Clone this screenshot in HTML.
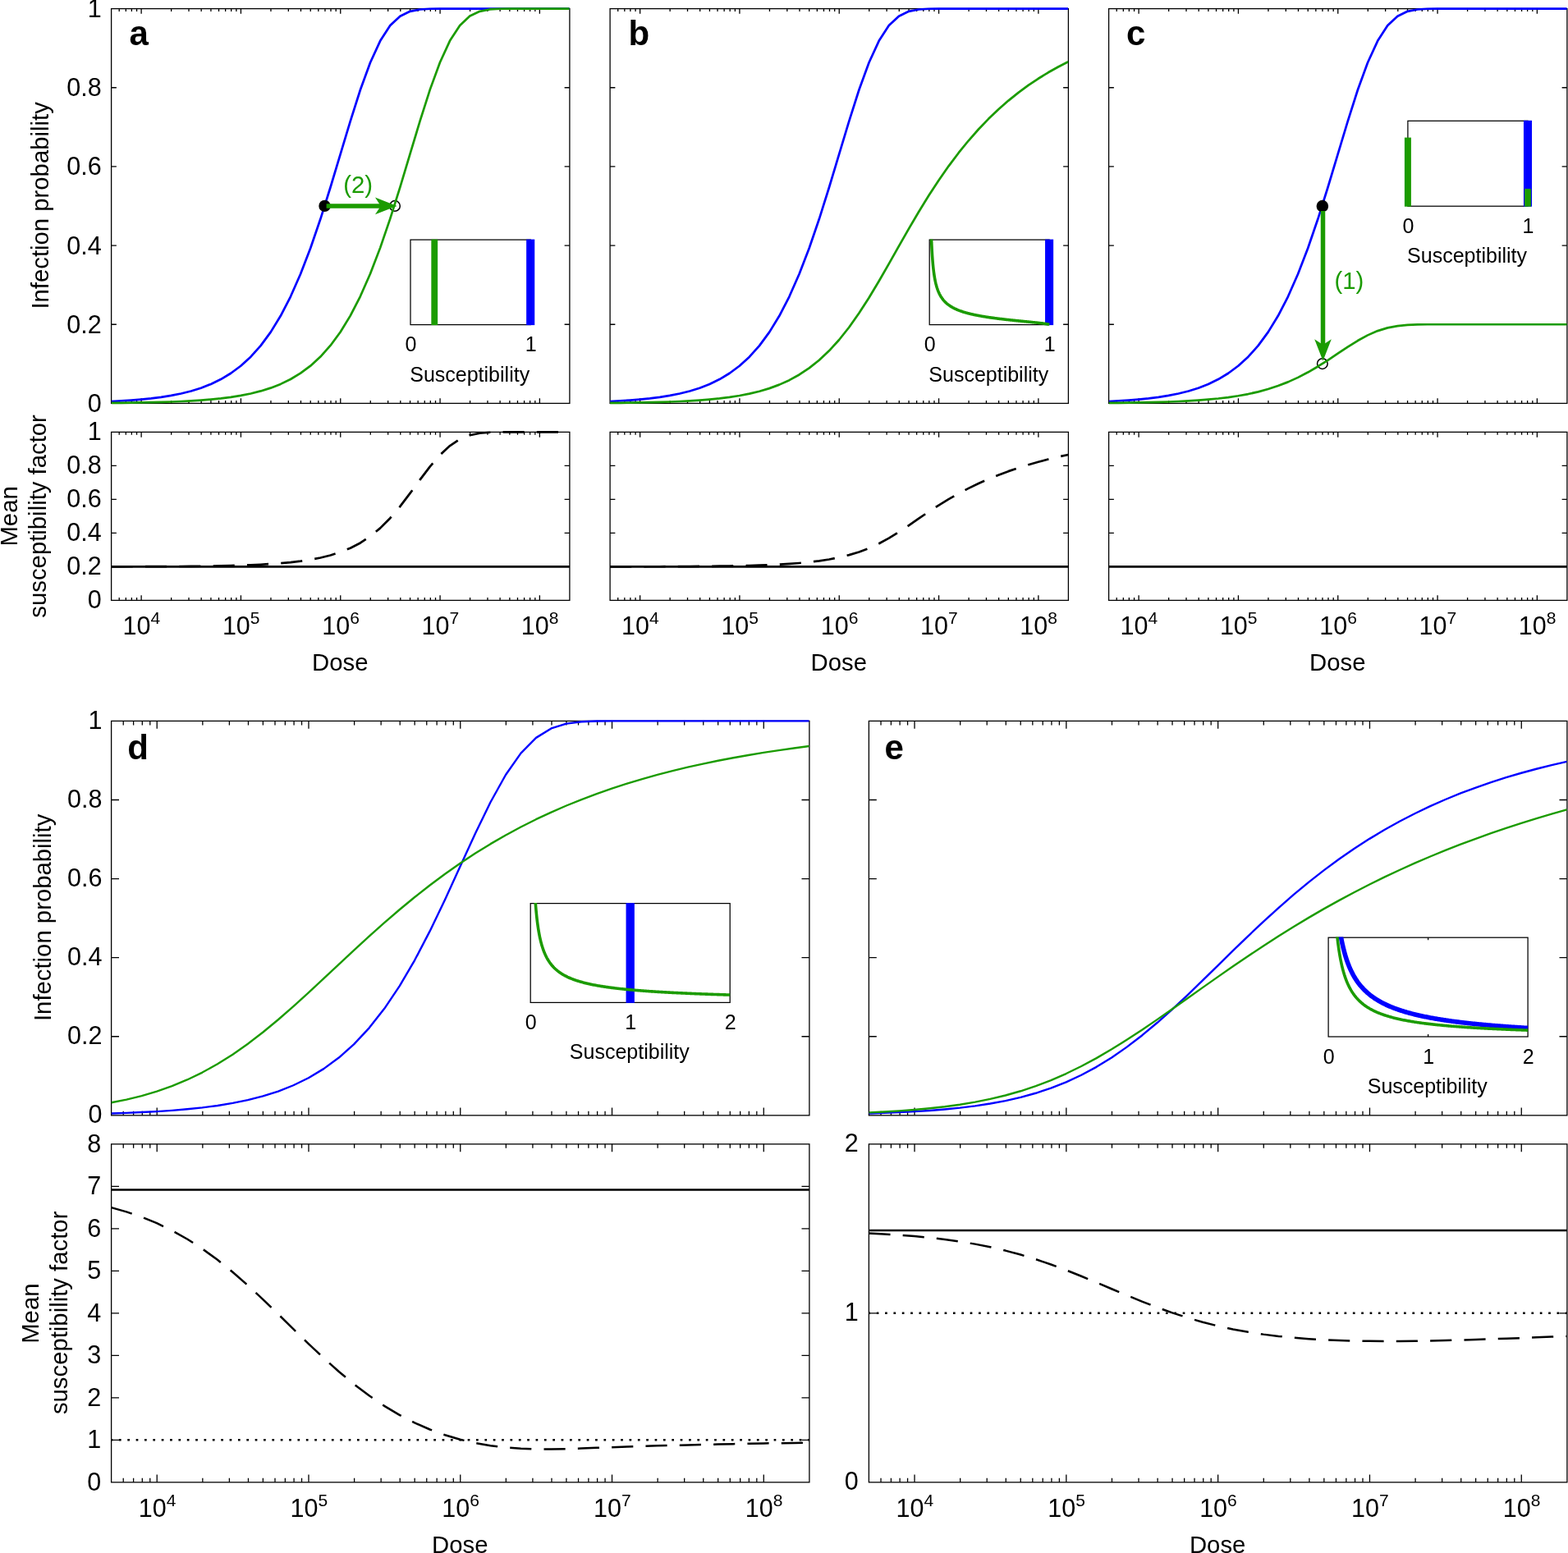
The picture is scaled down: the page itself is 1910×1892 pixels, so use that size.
<!DOCTYPE html>
<html><head><meta charset="utf-8"><title>Figure</title>
<style>
html,body{margin:0;padding:0;background:#fff;}
body{width:1910px;height:1892px;overflow:hidden;}
svg{display:block;font-family:"Liberation Sans", sans-serif;fill:#000;}
</style></head><body>
<svg xmlns="http://www.w3.org/2000/svg" width="1910" height="1892" viewBox="0 0 1910 1892">
<rect width="1910" height="1892" fill="#fff"/>
<path d="M145.21 491.4v-3.4369049999999994M145.21 10.6v3.4369049999999994M153.33 491.4v-3.4369049999999994M153.33 10.6v3.4369049999999994M160.36 491.4v-3.4369049999999994M160.36 10.6v3.4369049999999994M166.57 491.4v-3.4369049999999994M166.57 10.6v3.4369049999999994M172.12 491.4v-6.273809999999999M172.12 10.6v6.273809999999999M208.64 491.4v-3.4369049999999994M208.64 10.6v3.4369049999999994M230 491.4v-3.4369049999999994M230 10.6v3.4369049999999994M245.16 491.4v-3.4369049999999994M245.16 10.6v3.4369049999999994M256.92 491.4v-3.4369049999999994M256.92 10.6v3.4369049999999994M266.52 491.4v-3.4369049999999994M266.52 10.6v3.4369049999999994M274.64 491.4v-3.4369049999999994M274.64 10.6v3.4369049999999994M281.68 491.4v-3.4369049999999994M281.68 10.6v3.4369049999999994M287.88 491.4v-3.4369049999999994M287.88 10.6v3.4369049999999994M293.43 491.4v-6.273809999999999M293.43 10.6v6.273809999999999M329.95 491.4v-3.4369049999999994M329.95 10.6v3.4369049999999994M351.32 491.4v-3.4369049999999994M351.32 10.6v3.4369049999999994M366.47 491.4v-3.4369049999999994M366.47 10.6v3.4369049999999994M378.23 491.4v-3.4369049999999994M378.23 10.6v3.4369049999999994M387.84 491.4v-3.4369049999999994M387.84 10.6v3.4369049999999994M395.96 491.4v-3.4369049999999994M395.96 10.6v3.4369049999999994M402.99 491.4v-3.4369049999999994M402.99 10.6v3.4369049999999994M409.2 491.4v-3.4369049999999994M409.2 10.6v3.4369049999999994M414.75 491.4v-6.273809999999999M414.75 10.6v6.273809999999999M451.27 491.4v-3.4369049999999994M451.27 10.6v3.4369049999999994M472.63 491.4v-3.4369049999999994M472.63 10.6v3.4369049999999994M487.79 491.4v-3.4369049999999994M487.79 10.6v3.4369049999999994M499.55 491.4v-3.4369049999999994M499.55 10.6v3.4369049999999994M509.15 491.4v-3.4369049999999994M509.15 10.6v3.4369049999999994M517.27 491.4v-3.4369049999999994M517.27 10.6v3.4369049999999994M524.31 491.4v-3.4369049999999994M524.31 10.6v3.4369049999999994M530.51 491.4v-3.4369049999999994M530.51 10.6v3.4369049999999994M536.07 491.4v-6.273809999999999M536.07 10.6v6.273809999999999M572.58 491.4v-3.4369049999999994M572.58 10.6v3.4369049999999994M593.95 491.4v-3.4369049999999994M593.95 10.6v3.4369049999999994M609.1 491.4v-3.4369049999999994M609.1 10.6v3.4369049999999994M620.86 491.4v-3.4369049999999994M620.86 10.6v3.4369049999999994M630.47 491.4v-3.4369049999999994M630.47 10.6v3.4369049999999994M638.59 491.4v-3.4369049999999994M638.59 10.6v3.4369049999999994M645.62 491.4v-3.4369049999999994M645.62 10.6v3.4369049999999994M651.83 491.4v-3.4369049999999994M651.83 10.6v3.4369049999999994M657.38 491.4v-6.273809999999999M657.38 10.6v6.273809999999999M135.6 395.24h6.27M693.9 395.24h-6.27M135.6 299.08h6.27M693.9 299.08h-6.27M135.6 202.92h6.27M693.9 202.92h-6.27M135.6 106.76h6.27M693.9 106.76h-6.27" fill="none" stroke="#000" stroke-width="1.3"/>
<rect x="135.6" y="10.6" width="558.3" height="480.8" fill="none" stroke="#000" stroke-width="1.3"/>
<text x="123.7" y="501.9" text-anchor="end" font-size="30.5">0</text>
<text x="123.7" y="405.74" text-anchor="end" font-size="30.5">0.2</text>
<text x="123.7" y="309.58" text-anchor="end" font-size="30.5">0.4</text>
<text x="123.7" y="213.42" text-anchor="end" font-size="30.5">0.6</text>
<text x="123.7" y="117.26" text-anchor="end" font-size="30.5">0.8</text>
<text x="123.7" y="21.1" text-anchor="end" font-size="30.5">1</text>
<clipPath id="k1"><rect x="135.6" y="8.6" width="558.3" height="484.8"/></clipPath>
<polyline clip-path="url(#k1)" points="135.6,489 147.73,488.38 159.86,487.6 171.99,486.63 184.13,485.4 196.26,483.86 208.39,481.92 220.52,479.5 232.65,476.47 244.78,472.68 256.92,467.95 269.05,462.07 281.18,454.77 293.31,445.75 305.44,434.65 317.57,421.08 329.7,404.62 341.84,384.83 353.97,361.31 366.1,333.81 378.23,302.22 390.36,266.81 402.49,228.28 414.63,187.9 426.76,147.54 438.89,109.52 451.02,76.29 463.15,49.83 475.28,31.1 487.41,19.66 499.55,13.84 511.68,11.49 523.81,10.77 535.94,10.62 548.07,10.6 560.2,10.6 572.33,10.6 584.47,10.6 596.6,10.6 608.73,10.6 620.86,10.6 632.99,10.6 645.12,10.6 657.26,10.6 669.39,10.6 681.52,10.6 693.65,10.6" fill="none" stroke="#0000ff" stroke-width="2.7" stroke-linejoin="round"/>
<circle cx="395.5" cy="250.9" r="7.2" fill="#000"/>
<circle cx="481.0" cy="250.9" r="6.3" fill="none" stroke="#000" stroke-width="1.5"/>
<clipPath id="k2"><rect x="135.6" y="8.6" width="558.3" height="484.8"/></clipPath>
<polyline clip-path="url(#k2)" points="135.6,490.92 147.73,490.8 159.86,490.64 171.99,490.44 184.13,490.19 196.26,489.88 208.39,489.49 220.52,489 232.65,488.38 244.78,487.6 256.92,486.62 269.05,485.39 281.18,483.84 293.31,481.9 305.44,479.47 317.57,476.43 329.7,472.64 341.84,467.9 353.97,462 366.1,454.69 378.23,445.65 390.36,434.53 402.49,420.93 414.63,404.43 426.76,384.6 438.89,361.05 451.02,333.5 463.15,301.87 475.28,266.43 487.41,227.87 499.55,187.48 511.68,147.13 523.81,109.15 535.94,75.98 548.07,49.6 560.2,30.95 572.33,19.57 584.47,13.8 596.6,11.47 608.73,10.77 620.86,10.62 632.99,10.6 645.12,10.6 657.26,10.6 669.39,10.6 681.52,10.6 693.65,10.6" fill="none" stroke="#1b9b00" stroke-width="2.7" stroke-linejoin="round"/>
<path d="M145.21 731.4v-3.4369049999999994M145.21 526.4v3.4369049999999994M153.33 731.4v-3.4369049999999994M153.33 526.4v3.4369049999999994M160.36 731.4v-3.4369049999999994M160.36 526.4v3.4369049999999994M166.57 731.4v-3.4369049999999994M166.57 526.4v3.4369049999999994M172.12 731.4v-6.273809999999999M172.12 526.4v6.273809999999999M208.64 731.4v-3.4369049999999994M208.64 526.4v3.4369049999999994M230 731.4v-3.4369049999999994M230 526.4v3.4369049999999994M245.16 731.4v-3.4369049999999994M245.16 526.4v3.4369049999999994M256.92 731.4v-3.4369049999999994M256.92 526.4v3.4369049999999994M266.52 731.4v-3.4369049999999994M266.52 526.4v3.4369049999999994M274.64 731.4v-3.4369049999999994M274.64 526.4v3.4369049999999994M281.68 731.4v-3.4369049999999994M281.68 526.4v3.4369049999999994M287.88 731.4v-3.4369049999999994M287.88 526.4v3.4369049999999994M293.43 731.4v-6.273809999999999M293.43 526.4v6.273809999999999M329.95 731.4v-3.4369049999999994M329.95 526.4v3.4369049999999994M351.32 731.4v-3.4369049999999994M351.32 526.4v3.4369049999999994M366.47 731.4v-3.4369049999999994M366.47 526.4v3.4369049999999994M378.23 731.4v-3.4369049999999994M378.23 526.4v3.4369049999999994M387.84 731.4v-3.4369049999999994M387.84 526.4v3.4369049999999994M395.96 731.4v-3.4369049999999994M395.96 526.4v3.4369049999999994M402.99 731.4v-3.4369049999999994M402.99 526.4v3.4369049999999994M409.2 731.4v-3.4369049999999994M409.2 526.4v3.4369049999999994M414.75 731.4v-6.273809999999999M414.75 526.4v6.273809999999999M451.27 731.4v-3.4369049999999994M451.27 526.4v3.4369049999999994M472.63 731.4v-3.4369049999999994M472.63 526.4v3.4369049999999994M487.79 731.4v-3.4369049999999994M487.79 526.4v3.4369049999999994M499.55 731.4v-3.4369049999999994M499.55 526.4v3.4369049999999994M509.15 731.4v-3.4369049999999994M509.15 526.4v3.4369049999999994M517.27 731.4v-3.4369049999999994M517.27 526.4v3.4369049999999994M524.31 731.4v-3.4369049999999994M524.31 526.4v3.4369049999999994M530.51 731.4v-3.4369049999999994M530.51 526.4v3.4369049999999994M536.07 731.4v-6.273809999999999M536.07 526.4v6.273809999999999M572.58 731.4v-3.4369049999999994M572.58 526.4v3.4369049999999994M593.95 731.4v-3.4369049999999994M593.95 526.4v3.4369049999999994M609.1 731.4v-3.4369049999999994M609.1 526.4v3.4369049999999994M620.86 731.4v-3.4369049999999994M620.86 526.4v3.4369049999999994M630.47 731.4v-3.4369049999999994M630.47 526.4v3.4369049999999994M638.59 731.4v-3.4369049999999994M638.59 526.4v3.4369049999999994M645.62 731.4v-3.4369049999999994M645.62 526.4v3.4369049999999994M651.83 731.4v-3.4369049999999994M651.83 526.4v3.4369049999999994M657.38 731.4v-6.273809999999999M657.38 526.4v6.273809999999999M135.6 690.4h6.27M693.9 690.4h-6.27M135.6 649.4h6.27M693.9 649.4h-6.27M135.6 608.4h6.27M693.9 608.4h-6.27M135.6 567.4h6.27M693.9 567.4h-6.27" fill="none" stroke="#000" stroke-width="1.3"/>
<rect x="135.6" y="526.4" width="558.3" height="205" fill="none" stroke="#000" stroke-width="1.3"/>
<text x="123.7" y="741.1" text-anchor="end" font-size="30.5">0</text>
<text x="123.7" y="700.1" text-anchor="end" font-size="30.5">0.2</text>
<text x="123.7" y="659.1" text-anchor="end" font-size="30.5">0.4</text>
<text x="123.7" y="618.1" text-anchor="end" font-size="30.5">0.6</text>
<text x="123.7" y="577.1" text-anchor="end" font-size="30.5">0.8</text>
<text x="123.7" y="536.1" text-anchor="end" font-size="30.5">1</text>
<text x="172.42" y="773.2" text-anchor="middle" font-size="30.5">10<tspan dy="-13.1" font-size="21">4</tspan></text>
<text x="293.73" y="773.2" text-anchor="middle" font-size="30.5">10<tspan dy="-13.1" font-size="21">5</tspan></text>
<text x="415.05" y="773.2" text-anchor="middle" font-size="30.5">10<tspan dy="-13.1" font-size="21">6</tspan></text>
<text x="536.37" y="773.2" text-anchor="middle" font-size="30.5">10<tspan dy="-13.1" font-size="21">7</tspan></text>
<text x="657.68" y="773.2" text-anchor="middle" font-size="30.5">10<tspan dy="-13.1" font-size="21">8</tspan></text>
<text x="414.25" y="817.2" text-anchor="middle" font-size="29.3">Dose</text>
<clipPath id="k3"><rect x="135.6" y="524.4" width="558.3" height="209"/></clipPath>
<polyline clip-path="url(#k3)" points="135.6,690.32 147.73,690.3 159.86,690.27 171.99,690.24 184.13,690.19 196.26,690.14 208.39,690.07 220.52,689.99 232.65,689.88 244.78,689.75 256.92,689.58 269.05,689.36 281.18,689.09 293.31,688.75 305.44,688.31 317.57,687.77 329.7,687.07 341.84,686.19 353.97,685.07 366.1,683.64 378.23,681.82 390.36,679.49 402.49,676.5 414.63,672.66 426.76,667.73 438.89,661.43 451.02,653.42 463.15,643.41 475.28,631.2 487.41,616.88 499.55,600.94 511.68,584.34 523.81,568.36 535.94,554.27 548.07,543.03 560.2,535.08 572.33,530.23 584.47,527.76 596.6,526.77 608.73,526.47 620.86,526.41 632.99,526.4 645.12,526.4 657.26,526.4 669.39,526.4 681.52,526.4 693.65,526.4" fill="none" stroke="#000" stroke-width="2.7" stroke-linejoin="round" stroke-dasharray="26.16 15.18"/>
<line x1="135.6" x2="693.9" y1="690.4" y2="690.4" stroke="#000" stroke-width="2.7"/>
<text x="157.6" y="55.3" font-size="42" font-weight="bold">a</text>
<path d="M752.71 491.4v-3.436905M752.71 10.6v3.436905M760.83 491.4v-3.436905M760.83 10.6v3.436905M767.86 491.4v-3.436905M767.86 10.6v3.436905M774.07 491.4v-3.436905M774.07 10.6v3.436905M779.62 491.4v-6.27381M779.62 10.6v6.27381M816.14 491.4v-3.436905M816.14 10.6v3.436905M837.5 491.4v-3.436905M837.5 10.6v3.436905M852.66 491.4v-3.436905M852.66 10.6v3.436905M864.42 491.4v-3.436905M864.42 10.6v3.436905M874.02 491.4v-3.436905M874.02 10.6v3.436905M882.14 491.4v-3.436905M882.14 10.6v3.436905M889.18 491.4v-3.436905M889.18 10.6v3.436905M895.38 491.4v-3.436905M895.38 10.6v3.436905M900.93 491.4v-6.27381M900.93 10.6v6.27381M937.45 491.4v-3.436905M937.45 10.6v3.436905M958.82 491.4v-3.436905M958.82 10.6v3.436905M973.97 491.4v-3.436905M973.97 10.6v3.436905M985.73 491.4v-3.436905M985.73 10.6v3.436905M995.34 491.4v-3.436905M995.34 10.6v3.436905M1003.46 491.4v-3.436905M1003.46 10.6v3.436905M1010.49 491.4v-3.436905M1010.49 10.6v3.436905M1016.7 491.4v-3.436905M1016.7 10.6v3.436905M1022.25 491.4v-6.27381M1022.25 10.6v6.27381M1058.77 491.4v-3.436905M1058.77 10.6v3.436905M1080.13 491.4v-3.436905M1080.13 10.6v3.436905M1095.29 491.4v-3.436905M1095.29 10.6v3.436905M1107.05 491.4v-3.436905M1107.05 10.6v3.436905M1116.65 491.4v-3.436905M1116.65 10.6v3.436905M1124.77 491.4v-3.436905M1124.77 10.6v3.436905M1131.81 491.4v-3.436905M1131.81 10.6v3.436905M1138.01 491.4v-3.436905M1138.01 10.6v3.436905M1143.57 491.4v-6.27381M1143.57 10.6v6.27381M1180.08 491.4v-3.436905M1180.08 10.6v3.436905M1201.45 491.4v-3.436905M1201.45 10.6v3.436905M1216.6 491.4v-3.436905M1216.6 10.6v3.436905M1228.36 491.4v-3.436905M1228.36 10.6v3.436905M1237.97 491.4v-3.436905M1237.97 10.6v3.436905M1246.09 491.4v-3.436905M1246.09 10.6v3.436905M1253.12 491.4v-3.436905M1253.12 10.6v3.436905M1259.33 491.4v-3.436905M1259.33 10.6v3.436905M1264.88 491.4v-6.27381M1264.88 10.6v6.27381M743.1 395.24h6.27M1301.4 395.24h-6.27M743.1 299.08h6.27M1301.4 299.08h-6.27M743.1 202.92h6.27M1301.4 202.92h-6.27M743.1 106.76h6.27M1301.4 106.76h-6.27" fill="none" stroke="#000" stroke-width="1.3"/>
<rect x="743.1" y="10.6" width="558.3" height="480.8" fill="none" stroke="#000" stroke-width="1.3"/>
<clipPath id="k4"><rect x="743.1" y="8.6" width="558.3" height="484.8"/></clipPath>
<polyline clip-path="url(#k4)" points="743.1,489 755.23,488.38 767.36,487.6 779.49,486.63 791.63,485.4 803.76,483.86 815.89,481.92 828.02,479.5 840.15,476.47 852.28,472.68 864.42,467.95 876.55,462.07 888.68,454.77 900.81,445.75 912.94,434.65 925.07,421.08 937.2,404.62 949.34,384.83 961.47,361.31 973.6,333.81 985.73,302.22 997.86,266.81 1009.99,228.28 1022.13,187.9 1034.26,147.54 1046.39,109.52 1058.52,76.29 1070.65,49.83 1082.78,31.1 1094.91,19.66 1107.05,13.84 1119.18,11.49 1131.31,10.77 1143.44,10.62 1155.57,10.6 1167.7,10.6 1179.83,10.6 1191.97,10.6 1204.1,10.6 1216.23,10.6 1228.36,10.6 1240.49,10.6 1252.62,10.6 1264.76,10.6 1276.89,10.6 1289.02,10.6 1301.15,10.6" fill="none" stroke="#0000ff" stroke-width="2.7" stroke-linejoin="round"/>
<clipPath id="k5"><rect x="743.1" y="8.6" width="558.3" height="484.8"/></clipPath>
<polyline clip-path="url(#k5)" points="743.1,490.92 755.23,490.8 767.36,490.64 779.49,490.44 791.63,490.2 803.76,489.89 815.89,489.49 828.02,489 840.15,488.39 852.28,487.62 864.42,486.65 876.55,485.43 888.68,483.92 900.81,482.03 912.94,479.67 925.07,476.74 937.2,473.11 949.34,468.64 961.47,463.16 973.6,456.48 985.73,448.41 997.86,438.75 1009.99,427.32 1022.13,414 1034.26,398.73 1046.39,381.56 1058.52,362.71 1070.65,342.49 1082.78,321.39 1094.91,299.94 1107.05,278.66 1119.18,258.01 1131.31,238.29 1143.44,219.7 1155.57,202.33 1167.7,186.19 1179.83,171.27 1191.97,157.51 1204.1,144.85 1216.23,133.24 1228.36,122.59 1240.49,112.84 1252.62,103.92 1264.76,95.76 1276.89,88.3 1289.02,81.49 1301.15,75.28" fill="none" stroke="#1b9b00" stroke-width="2.7" stroke-linejoin="round"/>
<path d="M752.71 731.4v-3.436905M752.71 526.4v3.436905M760.83 731.4v-3.436905M760.83 526.4v3.436905M767.86 731.4v-3.436905M767.86 526.4v3.436905M774.07 731.4v-3.436905M774.07 526.4v3.436905M779.62 731.4v-6.27381M779.62 526.4v6.27381M816.14 731.4v-3.436905M816.14 526.4v3.436905M837.5 731.4v-3.436905M837.5 526.4v3.436905M852.66 731.4v-3.436905M852.66 526.4v3.436905M864.42 731.4v-3.436905M864.42 526.4v3.436905M874.02 731.4v-3.436905M874.02 526.4v3.436905M882.14 731.4v-3.436905M882.14 526.4v3.436905M889.18 731.4v-3.436905M889.18 526.4v3.436905M895.38 731.4v-3.436905M895.38 526.4v3.436905M900.93 731.4v-6.27381M900.93 526.4v6.27381M937.45 731.4v-3.436905M937.45 526.4v3.436905M958.82 731.4v-3.436905M958.82 526.4v3.436905M973.97 731.4v-3.436905M973.97 526.4v3.436905M985.73 731.4v-3.436905M985.73 526.4v3.436905M995.34 731.4v-3.436905M995.34 526.4v3.436905M1003.46 731.4v-3.436905M1003.46 526.4v3.436905M1010.49 731.4v-3.436905M1010.49 526.4v3.436905M1016.7 731.4v-3.436905M1016.7 526.4v3.436905M1022.25 731.4v-6.27381M1022.25 526.4v6.27381M1058.77 731.4v-3.436905M1058.77 526.4v3.436905M1080.13 731.4v-3.436905M1080.13 526.4v3.436905M1095.29 731.4v-3.436905M1095.29 526.4v3.436905M1107.05 731.4v-3.436905M1107.05 526.4v3.436905M1116.65 731.4v-3.436905M1116.65 526.4v3.436905M1124.77 731.4v-3.436905M1124.77 526.4v3.436905M1131.81 731.4v-3.436905M1131.81 526.4v3.436905M1138.01 731.4v-3.436905M1138.01 526.4v3.436905M1143.57 731.4v-6.27381M1143.57 526.4v6.27381M1180.08 731.4v-3.436905M1180.08 526.4v3.436905M1201.45 731.4v-3.436905M1201.45 526.4v3.436905M1216.6 731.4v-3.436905M1216.6 526.4v3.436905M1228.36 731.4v-3.436905M1228.36 526.4v3.436905M1237.97 731.4v-3.436905M1237.97 526.4v3.436905M1246.09 731.4v-3.436905M1246.09 526.4v3.436905M1253.12 731.4v-3.436905M1253.12 526.4v3.436905M1259.33 731.4v-3.436905M1259.33 526.4v3.436905M1264.88 731.4v-6.27381M1264.88 526.4v6.27381M743.1 690.4h6.27M1301.4 690.4h-6.27M743.1 649.4h6.27M1301.4 649.4h-6.27M743.1 608.4h6.27M1301.4 608.4h-6.27M743.1 567.4h6.27M1301.4 567.4h-6.27" fill="none" stroke="#000" stroke-width="1.3"/>
<rect x="743.1" y="526.4" width="558.3" height="205" fill="none" stroke="#000" stroke-width="1.3"/>
<text x="779.92" y="773.2" text-anchor="middle" font-size="30.5">10<tspan dy="-13.1" font-size="21">4</tspan></text>
<text x="901.23" y="773.2" text-anchor="middle" font-size="30.5">10<tspan dy="-13.1" font-size="21">5</tspan></text>
<text x="1022.55" y="773.2" text-anchor="middle" font-size="30.5">10<tspan dy="-13.1" font-size="21">6</tspan></text>
<text x="1143.87" y="773.2" text-anchor="middle" font-size="30.5">10<tspan dy="-13.1" font-size="21">7</tspan></text>
<text x="1265.18" y="773.2" text-anchor="middle" font-size="30.5">10<tspan dy="-13.1" font-size="21">8</tspan></text>
<text x="1021.75" y="817.2" text-anchor="middle" font-size="29.3">Dose</text>
<clipPath id="k6"><rect x="743.1" y="524.4" width="558.3" height="209"/></clipPath>
<polyline clip-path="url(#k6)" points="743.1,690.35 755.23,690.33 767.36,690.31 779.49,690.29 791.63,690.26 803.76,690.23 815.89,690.18 828.02,690.13 840.15,690.05 852.28,689.96 864.42,689.85 876.55,689.71 888.68,689.53 900.81,689.3 912.94,689.02 925.07,688.66 937.2,688.2 949.34,687.63 961.47,686.9 973.6,685.98 985.73,684.82 997.86,683.34 1009.99,681.48 1022.13,679.12 1034.26,676.15 1046.39,672.44 1058.52,667.85 1070.65,662.27 1082.78,655.68 1094.91,648.2 1107.05,640.08 1119.18,631.7 1131.31,623.44 1143.44,615.55 1155.57,608.15 1167.7,601.27 1179.83,594.9 1191.97,589.04 1204.1,583.64 1216.23,578.69 1228.36,574.15 1240.49,569.99 1252.62,566.19 1264.76,562.71 1276.89,559.53 1289.02,556.63 1301.15,553.98" fill="none" stroke="#000" stroke-width="2.7" stroke-linejoin="round" stroke-dasharray="26.16 15.18"/>
<line x1="743.1" x2="1301.4" y1="690.4" y2="690.4" stroke="#000" stroke-width="2.7"/>
<text x="765.4" y="55.3" font-size="42" font-weight="bold">b</text>
<path d="M1360.21 491.4v-3.4369050000000008M1360.21 10.6v3.4369050000000008M1368.33 491.4v-3.4369050000000008M1368.33 10.6v3.4369050000000008M1375.36 491.4v-3.4369050000000008M1375.36 10.6v3.4369050000000008M1381.57 491.4v-3.4369050000000008M1381.57 10.6v3.4369050000000008M1387.12 491.4v-6.273810000000002M1387.12 10.6v6.273810000000002M1423.64 491.4v-3.4369050000000008M1423.64 10.6v3.4369050000000008M1445 491.4v-3.4369050000000008M1445 10.6v3.4369050000000008M1460.16 491.4v-3.4369050000000008M1460.16 10.6v3.4369050000000008M1471.92 491.4v-3.4369050000000008M1471.92 10.6v3.4369050000000008M1481.52 491.4v-3.4369050000000008M1481.52 10.6v3.4369050000000008M1489.64 491.4v-3.4369050000000008M1489.64 10.6v3.4369050000000008M1496.68 491.4v-3.4369050000000008M1496.68 10.6v3.4369050000000008M1502.88 491.4v-3.4369050000000008M1502.88 10.6v3.4369050000000008M1508.43 491.4v-6.273810000000002M1508.43 10.6v6.273810000000002M1544.95 491.4v-3.4369050000000008M1544.95 10.6v3.4369050000000008M1566.32 491.4v-3.4369050000000008M1566.32 10.6v3.4369050000000008M1581.47 491.4v-3.4369050000000008M1581.47 10.6v3.4369050000000008M1593.23 491.4v-3.4369050000000008M1593.23 10.6v3.4369050000000008M1602.84 491.4v-3.4369050000000008M1602.84 10.6v3.4369050000000008M1610.96 491.4v-3.4369050000000008M1610.96 10.6v3.4369050000000008M1617.99 491.4v-3.4369050000000008M1617.99 10.6v3.4369050000000008M1624.2 491.4v-3.4369050000000008M1624.2 10.6v3.4369050000000008M1629.75 491.4v-6.273810000000002M1629.75 10.6v6.273810000000002M1666.27 491.4v-3.4369050000000008M1666.27 10.6v3.4369050000000008M1687.63 491.4v-3.4369050000000008M1687.63 10.6v3.4369050000000008M1702.79 491.4v-3.4369050000000008M1702.79 10.6v3.4369050000000008M1714.55 491.4v-3.4369050000000008M1714.55 10.6v3.4369050000000008M1724.15 491.4v-3.4369050000000008M1724.15 10.6v3.4369050000000008M1732.27 491.4v-3.4369050000000008M1732.27 10.6v3.4369050000000008M1739.31 491.4v-3.4369050000000008M1739.31 10.6v3.4369050000000008M1745.51 491.4v-3.4369050000000008M1745.51 10.6v3.4369050000000008M1751.07 491.4v-6.273810000000002M1751.07 10.6v6.273810000000002M1787.58 491.4v-3.4369050000000008M1787.58 10.6v3.4369050000000008M1808.95 491.4v-3.4369050000000008M1808.95 10.6v3.4369050000000008M1824.1 491.4v-3.4369050000000008M1824.1 10.6v3.4369050000000008M1835.86 491.4v-3.4369050000000008M1835.86 10.6v3.4369050000000008M1845.47 491.4v-3.4369050000000008M1845.47 10.6v3.4369050000000008M1853.59 491.4v-3.4369050000000008M1853.59 10.6v3.4369050000000008M1860.62 491.4v-3.4369050000000008M1860.62 10.6v3.4369050000000008M1866.83 491.4v-3.4369050000000008M1866.83 10.6v3.4369050000000008M1872.38 491.4v-6.273810000000002M1872.38 10.6v6.273810000000002M1350.6 395.24h6.27M1908.9 395.24h-6.27M1350.6 299.08h6.27M1908.9 299.08h-6.27M1350.6 202.92h6.27M1908.9 202.92h-6.27M1350.6 106.76h6.27M1908.9 106.76h-6.27" fill="none" stroke="#000" stroke-width="1.3"/>
<rect x="1350.6" y="10.6" width="558.3" height="480.8" fill="none" stroke="#000" stroke-width="1.3"/>
<clipPath id="k7"><rect x="1350.6" y="8.6" width="558.3" height="484.8"/></clipPath>
<polyline clip-path="url(#k7)" points="1350.6,489 1362.73,488.38 1374.86,487.6 1386.99,486.63 1399.13,485.4 1411.26,483.86 1423.39,481.92 1435.52,479.5 1447.65,476.47 1459.78,472.68 1471.92,467.95 1484.05,462.07 1496.18,454.77 1508.31,445.75 1520.44,434.65 1532.57,421.08 1544.7,404.62 1556.84,384.83 1568.97,361.31 1581.1,333.81 1593.23,302.22 1605.36,266.81 1617.49,228.28 1629.63,187.9 1641.76,147.54 1653.89,109.52 1666.02,76.29 1678.15,49.83 1690.28,31.1 1702.41,19.66 1714.55,13.84 1726.68,11.49 1738.81,10.77 1750.94,10.62 1763.07,10.6 1775.2,10.6 1787.33,10.6 1799.47,10.6 1811.6,10.6 1823.73,10.6 1835.86,10.6 1847.99,10.6 1860.12,10.6 1872.26,10.6 1884.39,10.6 1896.52,10.6 1908.65,10.6" fill="none" stroke="#0000ff" stroke-width="2.7" stroke-linejoin="round"/>
<circle cx="1610.85" cy="251.1" r="7.3" fill="#000"/>
<circle cx="1610.85" cy="443.1" r="6.3" fill="none" stroke="#000" stroke-width="1.5"/>
<clipPath id="k8"><rect x="1350.6" y="8.6" width="558.3" height="484.8"/></clipPath>
<polyline clip-path="url(#k8)" points="1350.6,490.92 1362.73,490.8 1374.86,490.64 1386.99,490.45 1399.13,490.2 1411.26,489.89 1423.39,489.5 1435.52,489.02 1447.65,488.41 1459.78,487.66 1471.92,486.71 1484.05,485.53 1496.18,484.07 1508.31,482.27 1520.44,480.05 1532.57,477.34 1544.7,474.04 1556.84,470.09 1568.97,465.38 1581.1,459.88 1593.23,453.56 1605.36,446.48 1617.49,438.78 1629.63,430.7 1641.76,422.63 1653.89,415.02 1666.02,408.38 1678.15,403.09 1690.28,399.34 1702.41,397.05 1714.55,395.89 1726.68,395.42 1738.81,395.27 1750.94,395.24 1763.07,395.24 1775.2,395.24 1787.33,395.24 1799.47,395.24 1811.6,395.24 1823.73,395.24 1835.86,395.24 1847.99,395.24 1860.12,395.24 1872.26,395.24 1884.39,395.24 1896.52,395.24 1908.65,395.24" fill="none" stroke="#1b9b00" stroke-width="2.7" stroke-linejoin="round"/>
<path d="M1360.21 731.4v-3.4369050000000008M1360.21 526.4v3.4369050000000008M1368.33 731.4v-3.4369050000000008M1368.33 526.4v3.4369050000000008M1375.36 731.4v-3.4369050000000008M1375.36 526.4v3.4369050000000008M1381.57 731.4v-3.4369050000000008M1381.57 526.4v3.4369050000000008M1387.12 731.4v-6.273810000000002M1387.12 526.4v6.273810000000002M1423.64 731.4v-3.4369050000000008M1423.64 526.4v3.4369050000000008M1445 731.4v-3.4369050000000008M1445 526.4v3.4369050000000008M1460.16 731.4v-3.4369050000000008M1460.16 526.4v3.4369050000000008M1471.92 731.4v-3.4369050000000008M1471.92 526.4v3.4369050000000008M1481.52 731.4v-3.4369050000000008M1481.52 526.4v3.4369050000000008M1489.64 731.4v-3.4369050000000008M1489.64 526.4v3.4369050000000008M1496.68 731.4v-3.4369050000000008M1496.68 526.4v3.4369050000000008M1502.88 731.4v-3.4369050000000008M1502.88 526.4v3.4369050000000008M1508.43 731.4v-6.273810000000002M1508.43 526.4v6.273810000000002M1544.95 731.4v-3.4369050000000008M1544.95 526.4v3.4369050000000008M1566.32 731.4v-3.4369050000000008M1566.32 526.4v3.4369050000000008M1581.47 731.4v-3.4369050000000008M1581.47 526.4v3.4369050000000008M1593.23 731.4v-3.4369050000000008M1593.23 526.4v3.4369050000000008M1602.84 731.4v-3.4369050000000008M1602.84 526.4v3.4369050000000008M1610.96 731.4v-3.4369050000000008M1610.96 526.4v3.4369050000000008M1617.99 731.4v-3.4369050000000008M1617.99 526.4v3.4369050000000008M1624.2 731.4v-3.4369050000000008M1624.2 526.4v3.4369050000000008M1629.75 731.4v-6.273810000000002M1629.75 526.4v6.273810000000002M1666.27 731.4v-3.4369050000000008M1666.27 526.4v3.4369050000000008M1687.63 731.4v-3.4369050000000008M1687.63 526.4v3.4369050000000008M1702.79 731.4v-3.4369050000000008M1702.79 526.4v3.4369050000000008M1714.55 731.4v-3.4369050000000008M1714.55 526.4v3.4369050000000008M1724.15 731.4v-3.4369050000000008M1724.15 526.4v3.4369050000000008M1732.27 731.4v-3.4369050000000008M1732.27 526.4v3.4369050000000008M1739.31 731.4v-3.4369050000000008M1739.31 526.4v3.4369050000000008M1745.51 731.4v-3.4369050000000008M1745.51 526.4v3.4369050000000008M1751.07 731.4v-6.273810000000002M1751.07 526.4v6.273810000000002M1787.58 731.4v-3.4369050000000008M1787.58 526.4v3.4369050000000008M1808.95 731.4v-3.4369050000000008M1808.95 526.4v3.4369050000000008M1824.1 731.4v-3.4369050000000008M1824.1 526.4v3.4369050000000008M1835.86 731.4v-3.4369050000000008M1835.86 526.4v3.4369050000000008M1845.47 731.4v-3.4369050000000008M1845.47 526.4v3.4369050000000008M1853.59 731.4v-3.4369050000000008M1853.59 526.4v3.4369050000000008M1860.62 731.4v-3.4369050000000008M1860.62 526.4v3.4369050000000008M1866.83 731.4v-3.4369050000000008M1866.83 526.4v3.4369050000000008M1872.38 731.4v-6.273810000000002M1872.38 526.4v6.273810000000002M1350.6 690.4h6.27M1908.9 690.4h-6.27M1350.6 649.4h6.27M1908.9 649.4h-6.27M1350.6 608.4h6.27M1908.9 608.4h-6.27M1350.6 567.4h6.27M1908.9 567.4h-6.27" fill="none" stroke="#000" stroke-width="1.3"/>
<rect x="1350.6" y="526.4" width="558.3" height="205" fill="none" stroke="#000" stroke-width="1.3"/>
<text x="1387.42" y="773.2" text-anchor="middle" font-size="30.5">10<tspan dy="-13.1" font-size="21">4</tspan></text>
<text x="1508.73" y="773.2" text-anchor="middle" font-size="30.5">10<tspan dy="-13.1" font-size="21">5</tspan></text>
<text x="1630.05" y="773.2" text-anchor="middle" font-size="30.5">10<tspan dy="-13.1" font-size="21">6</tspan></text>
<text x="1751.37" y="773.2" text-anchor="middle" font-size="30.5">10<tspan dy="-13.1" font-size="21">7</tspan></text>
<text x="1872.68" y="773.2" text-anchor="middle" font-size="30.5">10<tspan dy="-13.1" font-size="21">8</tspan></text>
<text x="1629.25" y="817.2" text-anchor="middle" font-size="29.3">Dose</text>
<line x1="1350.6" x2="1908.9" y1="690.4" y2="690.4" stroke="#000" stroke-width="2.7"/>
<text x="1372" y="55.3" font-size="42" font-weight="bold">c</text>
<text transform="translate(59.4 250.4) rotate(-90)" text-anchor="middle" font-size="29.3">Infection probability</text>
<text transform="translate(20.7 628.9) rotate(-90)" text-anchor="middle" font-size="29.3">Mean</text>
<text transform="translate(56 628.9) rotate(-90)" text-anchor="middle" font-size="29.3">susceptibility factor</text>
<rect x="500" y="292.1" width="146.2" height="103.5" fill="none" stroke="#000" stroke-width="1.25"/>
<text x="500.5" y="428.3" text-anchor="middle" font-size="25">0</text>
<text x="646.7" y="428.3" text-anchor="middle" font-size="25">1</text>
<text x="572.2" y="464.6" text-anchor="middle" font-size="25">Susceptibility</text>
<rect x="525.34" y="291.6" width="7.8" height="104.5" fill="#1b9b00"/>
<rect x="641.15" y="291.6" width="10.1" height="104.5" fill="#0000ff"/>
<rect x="1132.2" y="292.1" width="145.9" height="103.5" fill="none" stroke="#000" stroke-width="1.25"/>
<text x="1132.7" y="428.3" text-anchor="middle" font-size="25">0</text>
<text x="1278.6" y="428.3" text-anchor="middle" font-size="25">1</text>
<text x="1204.25" y="464.6" text-anchor="middle" font-size="25">Susceptibility</text>
<rect x="1273.05" y="291.6" width="10.1" height="104.5" fill="#0000ff"/>
<clipPath id="cb"><rect x="1129.2" y="291.5" width="151.9" height="107.5"/></clipPath>
<polyline clip-path="url(#cb)" points="1132.49,25.52 1132.64,105.02 1132.78,150.99 1132.93,181.64 1133.07,203.84 1133.21,220.84 1133.36,234.35 1133.5,245.42 1133.65,254.69 1133.79,262.58 1133.94,269.41 1134.08,275.39 1134.22,280.68 1134.37,285.4 1134.51,289.65 1134.66,293.49 1134.8,296.99 1134.95,300.19 1135.09,303.13 1135.24,305.85 1135.38,308.37 1135.52,310.72 1135.67,312.91 1135.81,314.96 1135.96,316.88 1136.1,318.69 1136.25,320.39 1136.39,322 1136.54,323.53 1136.68,324.97 1136.82,326.35 1136.97,327.66 1137.11,328.9 1137.26,330.09 1137.4,331.23 1137.55,332.32 1137.69,333.36 1137.84,334.36 1137.98,335.32 1138.12,336.24 1138.27,337.13 1138.41,337.98 1138.56,338.81 1138.7,339.6 1138.85,340.37 1138.99,341.11 1139.14,341.83 1139.28,342.52 1139.42,343.2 1139.57,343.85 1139.71,344.48 1139.86,345.09 1140,345.69 1140.15,346.26 1140.29,346.82 1140.44,347.37 1140.58,347.9 1140.72,348.42 1140.87,348.92 1141.01,349.41 1141.16,349.89 1141.3,350.35 1141.45,350.8 1141.59,351.25 1141.74,351.68 1141.88,352.1 1142.02,352.51 1142.17,352.92 1142.31,353.31 1142.46,353.7 1142.6,354.07 1142.75,354.44 1142.89,354.8 1143.03,355.15 1143.18,355.5 1143.32,355.84 1143.47,356.17 1143.61,356.5 1143.76,356.82 1143.9,357.13 1144.05,357.43 1144.19,357.74 1144.33,358.03 1144.48,358.32 1144.62,358.61 1144.77,358.89 1144.91,359.16 1145.06,359.43 1145.2,359.69 1145.35,359.96 1145.49,360.21 1145.63,360.46 1145.78,360.71 1145.92,360.95 1146.07,361.19 1146.21,361.43 1146.36,361.66 1146.5,361.89 1146.65,362.11 1146.79,362.34 1146.79,362.34 1147.45,363.3 1148.11,364.21 1148.77,365.06 1149.43,365.86 1150.09,366.61 1150.75,367.32 1151.41,368 1152.07,368.63 1152.73,369.24 1153.39,369.82 1154.05,370.37 1154.71,370.89 1155.37,371.4 1156.03,371.88 1156.69,372.34 1157.35,372.78 1158.01,373.21 1158.67,373.62 1159.33,374.01 1159.99,374.39 1160.65,374.76 1161.31,375.11 1161.97,375.45 1162.63,375.79 1163.29,376.11 1163.95,376.42 1164.61,376.72 1165.27,377.01 1165.93,377.29 1166.59,377.57 1167.25,377.84 1167.91,378.1 1168.57,378.35 1169.22,378.6 1169.88,378.84 1170.54,379.07 1171.2,379.3 1171.86,379.52 1172.52,379.74 1173.18,379.96 1173.84,380.16 1174.5,380.37 1175.16,380.56 1175.82,380.76 1176.48,380.95 1177.14,381.13 1177.8,381.32 1178.46,381.5 1179.12,381.67 1179.78,381.84 1180.44,382.01 1181.1,382.18 1181.76,382.34 1182.42,382.5 1183.08,382.65 1183.74,382.81 1184.4,382.96 1185.06,383.1 1185.72,383.25 1186.38,383.39 1187.04,383.53 1187.7,383.67 1188.36,383.81 1189.02,383.94 1189.68,384.07 1190.34,384.2 1191,384.33 1191.66,384.46 1192.32,384.58 1192.98,384.71 1193.64,384.83 1194.3,384.95 1194.96,385.06 1195.62,385.18 1196.28,385.29 1196.94,385.41 1197.6,385.52 1198.26,385.63 1198.92,385.74 1199.58,385.84 1200.24,385.95 1200.9,386.05 1201.56,386.16 1202.22,386.26 1202.88,386.36 1203.54,386.46 1204.2,386.56 1204.86,386.66 1205.52,386.75 1206.18,386.85 1206.84,386.94 1207.5,387.04 1208.16,387.13 1208.82,387.22 1209.48,387.31 1210.14,387.4 1210.8,387.49 1211.46,387.58 1212.12,387.67 1212.77,387.75 1213.43,387.84 1214.09,387.92 1214.75,388.01 1215.41,388.09 1216.07,388.17 1216.73,388.26 1217.39,388.34 1218.05,388.42 1218.71,388.5 1219.37,388.58 1220.03,388.66 1220.69,388.73 1221.35,388.81 1222.01,388.89 1222.67,388.97 1223.33,389.04 1223.99,389.12 1224.65,389.19 1225.31,389.27 1225.97,389.34 1226.63,389.42 1227.29,389.49 1227.95,389.56 1228.61,389.63 1229.27,389.71 1229.93,389.78 1230.59,389.85 1231.25,389.92 1231.91,389.99 1232.57,390.06 1233.23,390.13 1233.89,390.2 1234.55,390.27 1235.21,390.34 1235.87,390.41 1236.53,390.48 1237.19,390.54 1237.85,390.61 1238.51,390.68 1239.17,390.75 1239.83,390.81 1240.49,390.88 1241.15,390.95 1241.81,391.01 1242.47,391.08 1243.13,391.15 1243.79,391.21 1244.45,391.28 1245.11,391.35 1245.77,391.41 1246.43,391.48 1247.09,391.54 1247.75,391.61 1248.41,391.67 1249.07,391.74 1249.73,391.81 1250.39,391.87 1251.05,391.94 1251.71,392 1252.37,392.07 1253.03,392.14 1253.69,392.2 1254.35,392.27 1255.01,392.33 1255.67,392.4 1256.32,392.47 1256.98,392.53 1257.64,392.6 1258.3,392.67 1258.96,392.74 1259.62,392.81 1260.28,392.87 1260.94,392.94 1261.6,393.01 1262.26,393.08 1262.92,393.15 1263.58,393.23 1264.24,393.3 1264.9,393.37 1265.56,393.45 1266.22,393.52 1266.88,393.6 1267.54,393.67 1268.2,393.75 1268.86,393.83 1269.52,393.91 1270.18,394 1270.84,394.08 1271.5,394.17 1272.16,394.26 1272.82,394.36 1273.48,394.46 1274.14,394.56 1274.8,394.67 1275.46,394.79 1276.12,394.92 1276.78,395.07 1277.44,395.25 1278.1,395.6" fill="none" stroke="#1b9b00" stroke-width="3.6" stroke-linejoin="round"/>
<rect x="1714.9" y="147.3" width="146.1" height="103.9" fill="none" stroke="#000" stroke-width="1.25"/>
<text x="1715.4" y="283.9" text-anchor="middle" font-size="25">0</text>
<text x="1861.5" y="283.9" text-anchor="middle" font-size="25">1</text>
<text x="1787.05" y="320.2" text-anchor="middle" font-size="25">Susceptibility</text>
<rect x="1710.9" y="167.58" width="8" height="84.12" fill="#1b9b00"/>
<rect x="1855.95" y="146.8" width="10.1" height="104.9" fill="#0000ff"/>
<rect x="1857.1" y="229.92" width="7.8" height="21.78" fill="#1b9b00"/>
<line x1="397.6" x2="464.6" y1="250.9" y2="250.9" stroke="#1b9b00" stroke-width="5.5"/>
<path d="M483.6 250.9L457 240.6L463.8 250.9L457 261.2Z" fill="#1b9b00"/>
<text x="436.2" y="234.8" text-anchor="middle" font-size="29.3" fill="#1b9b00">(2)</text>
<line x1="1611.5" x2="1611.5" y1="257" y2="420.8" stroke="#1b9b00" stroke-width="5.5"/>
<path d="M1611.5 439.8L1601.2 413.2L1611.5 420L1621.8 413.2Z" fill="#1b9b00"/>
<text x="1643.4" y="351.9" text-anchor="middle" font-size="29.3" fill="#1b9b00">(1)</text>
<path d="M150.23 1358.85v-4.999105M150.23 878.4v4.999105M162.6 1358.85v-4.999105M162.6 878.4v4.999105M173.31 1358.85v-4.999105M173.31 878.4v4.999105M182.77 1358.85v-4.999105M182.77 878.4v4.999105M191.22 1358.85v-9.39821M191.22 878.4v9.39821M246.84 1358.85v-4.999105M246.84 878.4v4.999105M279.38 1358.85v-4.999105M279.38 878.4v4.999105M302.46 1358.85v-4.999105M302.46 878.4v4.999105M320.37 1358.85v-4.999105M320.37 878.4v4.999105M335 1358.85v-4.999105M335 878.4v4.999105M347.36 1358.85v-4.999105M347.36 878.4v4.999105M358.08 1358.85v-4.999105M358.08 878.4v4.999105M367.53 1358.85v-4.999105M367.53 878.4v4.999105M375.98 1358.85v-9.39821M375.98 878.4v9.39821M431.6 1358.85v-4.999105M431.6 878.4v4.999105M464.14 1358.85v-4.999105M464.14 878.4v4.999105M487.22 1358.85v-4.999105M487.22 878.4v4.999105M505.13 1358.85v-4.999105M505.13 878.4v4.999105M519.76 1358.85v-4.999105M519.76 878.4v4.999105M532.13 1358.85v-4.999105M532.13 878.4v4.999105M542.84 1358.85v-4.999105M542.84 878.4v4.999105M552.3 1358.85v-4.999105M552.3 878.4v4.999105M560.75 1358.85v-9.39821M560.75 878.4v9.39821M616.37 1358.85v-4.999105M616.37 878.4v4.999105M648.91 1358.85v-4.999105M648.91 878.4v4.999105M671.99 1358.85v-4.999105M671.99 878.4v4.999105M689.9 1358.85v-4.999105M689.9 878.4v4.999105M704.53 1358.85v-4.999105M704.53 878.4v4.999105M716.89 1358.85v-4.999105M716.89 878.4v4.999105M727.61 1358.85v-4.999105M727.61 878.4v4.999105M737.06 1358.85v-4.999105M737.06 878.4v4.999105M745.52 1358.85v-9.39821M745.52 878.4v9.39821M801.13 1358.85v-4.999105M801.13 878.4v4.999105M833.67 1358.85v-4.999105M833.67 878.4v4.999105M856.75 1358.85v-4.999105M856.75 878.4v4.999105M874.66 1358.85v-4.999105M874.66 878.4v4.999105M889.29 1358.85v-4.999105M889.29 878.4v4.999105M901.66 1358.85v-4.999105M901.66 878.4v4.999105M912.37 1358.85v-4.999105M912.37 878.4v4.999105M921.83 1358.85v-4.999105M921.83 878.4v4.999105M930.28 1358.85v-9.39821M930.28 878.4v9.39821M135.6 1262.76h9.4M985.9 1262.76h-9.4M135.6 1166.67h9.4M985.9 1166.67h-9.4M135.6 1070.58h9.4M985.9 1070.58h-9.4M135.6 974.49h9.4M985.9 974.49h-9.4" fill="none" stroke="#000" stroke-width="1.3"/>
<rect x="135.6" y="878.4" width="850.3" height="480.45" fill="none" stroke="#000" stroke-width="1.3"/>
<text x="124.4" y="1368.45" text-anchor="end" font-size="30.5">0</text>
<text x="124.4" y="1272.36" text-anchor="end" font-size="30.5">0.2</text>
<text x="124.4" y="1176.27" text-anchor="end" font-size="30.5">0.4</text>
<text x="124.4" y="1080.18" text-anchor="end" font-size="30.5">0.6</text>
<text x="124.4" y="984.09" text-anchor="end" font-size="30.5">0.8</text>
<text x="124.4" y="888" text-anchor="end" font-size="30.5">1</text>
<clipPath id="k9"><rect x="135.6" y="876.4" width="850.3" height="484.45"/></clipPath>
<polyline clip-path="url(#k9)" points="135.6,1356.45 154.08,1355.84 172.55,1355.06 191.03,1354.08 209.51,1352.85 227.98,1351.31 246.46,1349.38 264.94,1346.96 283.41,1343.93 301.89,1340.14 320.37,1335.42 338.84,1329.54 357.32,1322.25 375.79,1313.23 394.27,1302.14 412.75,1288.59 431.22,1272.13 449.7,1252.35 468.18,1228.86 486.65,1201.37 505.13,1169.81 523.61,1134.42 542.08,1095.92 560.56,1055.57 579.04,1015.24 597.51,977.25 615.99,944.04 634.47,917.6 652.94,898.89 671.42,887.45 689.9,881.64 708.37,879.29 726.85,878.57 745.32,878.42 763.8,878.4 782.28,878.4 800.75,878.4 819.23,878.4 837.71,878.4 856.18,878.4 874.66,878.4 893.14,878.4 911.61,878.4 930.09,878.4 948.57,878.4 967.04,878.4 985.52,878.4" fill="none" stroke="#0000ff" stroke-width="2.4" stroke-linejoin="round"/>
<clipPath id="k10"><rect x="135.6" y="876.4" width="850.3" height="484.45"/></clipPath>
<polyline clip-path="url(#k10)" points="135.6,1343.28 154.08,1339.56 172.55,1335.05 191.03,1329.62 209.51,1323.13 227.98,1315.48 246.46,1306.55 264.94,1296.28 283.41,1284.65 301.89,1271.7 320.37,1257.51 338.84,1242.25 357.32,1226.11 375.79,1209.32 394.27,1192.15 412.75,1174.83 431.22,1157.6 449.7,1140.65 468.18,1124.16 486.65,1108.24 505.13,1092.99 523.61,1078.48 542.08,1064.73 560.56,1051.77 579.04,1039.58 597.51,1028.16 615.99,1017.48 634.47,1007.51 652.94,998.21 671.42,989.56 689.9,981.51 708.37,974.03 726.85,967.07 745.32,960.62 763.8,954.63 782.28,949.07 800.75,943.91 819.23,939.13 837.71,934.69 856.18,930.58 874.66,926.76 893.14,923.23 911.61,919.95 930.09,916.91 948.57,914.09 967.04,911.48 985.52,909.06" fill="none" stroke="#1b9b00" stroke-width="2.4" stroke-linejoin="round"/>
<path d="M150.23 1805.85v-4.999105M150.23 1393.85v4.999105M162.6 1805.85v-4.999105M162.6 1393.85v4.999105M173.31 1805.85v-4.999105M173.31 1393.85v4.999105M182.77 1805.85v-4.999105M182.77 1393.85v4.999105M191.22 1805.85v-9.39821M191.22 1393.85v9.39821M246.84 1805.85v-4.999105M246.84 1393.85v4.999105M279.38 1805.85v-4.999105M279.38 1393.85v4.999105M302.46 1805.85v-4.999105M302.46 1393.85v4.999105M320.37 1805.85v-4.999105M320.37 1393.85v4.999105M335 1805.85v-4.999105M335 1393.85v4.999105M347.36 1805.85v-4.999105M347.36 1393.85v4.999105M358.08 1805.85v-4.999105M358.08 1393.85v4.999105M367.53 1805.85v-4.999105M367.53 1393.85v4.999105M375.98 1805.85v-9.39821M375.98 1393.85v9.39821M431.6 1805.85v-4.999105M431.6 1393.85v4.999105M464.14 1805.85v-4.999105M464.14 1393.85v4.999105M487.22 1805.85v-4.999105M487.22 1393.85v4.999105M505.13 1805.85v-4.999105M505.13 1393.85v4.999105M519.76 1805.85v-4.999105M519.76 1393.85v4.999105M532.13 1805.85v-4.999105M532.13 1393.85v4.999105M542.84 1805.85v-4.999105M542.84 1393.85v4.999105M552.3 1805.85v-4.999105M552.3 1393.85v4.999105M560.75 1805.85v-9.39821M560.75 1393.85v9.39821M616.37 1805.85v-4.999105M616.37 1393.85v4.999105M648.91 1805.85v-4.999105M648.91 1393.85v4.999105M671.99 1805.85v-4.999105M671.99 1393.85v4.999105M689.9 1805.85v-4.999105M689.9 1393.85v4.999105M704.53 1805.85v-4.999105M704.53 1393.85v4.999105M716.89 1805.85v-4.999105M716.89 1393.85v4.999105M727.61 1805.85v-4.999105M727.61 1393.85v4.999105M737.06 1805.85v-4.999105M737.06 1393.85v4.999105M745.52 1805.85v-9.39821M745.52 1393.85v9.39821M801.13 1805.85v-4.999105M801.13 1393.85v4.999105M833.67 1805.85v-4.999105M833.67 1393.85v4.999105M856.75 1805.85v-4.999105M856.75 1393.85v4.999105M874.66 1805.85v-4.999105M874.66 1393.85v4.999105M889.29 1805.85v-4.999105M889.29 1393.85v4.999105M901.66 1805.85v-4.999105M901.66 1393.85v4.999105M912.37 1805.85v-4.999105M912.37 1393.85v4.999105M921.83 1805.85v-4.999105M921.83 1393.85v4.999105M930.28 1805.85v-9.39821M930.28 1393.85v9.39821M135.6 1754.35h9.4M985.9 1754.35h-9.4M135.6 1702.85h9.4M985.9 1702.85h-9.4M135.6 1651.35h9.4M985.9 1651.35h-9.4M135.6 1599.85h9.4M985.9 1599.85h-9.4M135.6 1548.35h9.4M985.9 1548.35h-9.4M135.6 1496.85h9.4M985.9 1496.85h-9.4M135.6 1445.35h9.4M985.9 1445.35h-9.4" fill="none" stroke="#000" stroke-width="1.3"/>
<rect x="135.6" y="1393.85" width="850.3" height="412" fill="none" stroke="#000" stroke-width="1.3"/>
<text x="123.1" y="1815.7" text-anchor="end" font-size="30.5">0</text>
<text x="123.1" y="1764.2" text-anchor="end" font-size="30.5">1</text>
<text x="123.1" y="1712.7" text-anchor="end" font-size="30.5">2</text>
<text x="123.1" y="1661.2" text-anchor="end" font-size="30.5">3</text>
<text x="123.1" y="1609.7" text-anchor="end" font-size="30.5">4</text>
<text x="123.1" y="1558.2" text-anchor="end" font-size="30.5">5</text>
<text x="123.1" y="1506.7" text-anchor="end" font-size="30.5">6</text>
<text x="123.1" y="1455.2" text-anchor="end" font-size="30.5">7</text>
<text x="123.1" y="1403.7" text-anchor="end" font-size="30.5">8</text>
<text x="191.52" y="1847.65" text-anchor="middle" font-size="30.5">10<tspan dy="-13.1" font-size="21">4</tspan></text>
<text x="376.28" y="1847.65" text-anchor="middle" font-size="30.5">10<tspan dy="-13.1" font-size="21">5</tspan></text>
<text x="561.05" y="1847.65" text-anchor="middle" font-size="30.5">10<tspan dy="-13.1" font-size="21">6</tspan></text>
<text x="745.82" y="1847.65" text-anchor="middle" font-size="30.5">10<tspan dy="-13.1" font-size="21">7</tspan></text>
<text x="930.58" y="1847.65" text-anchor="middle" font-size="30.5">10<tspan dy="-13.1" font-size="21">8</tspan></text>
<text x="560.25" y="1891.65" text-anchor="middle" font-size="29.3">Dose</text>
<line x1="135.6" x2="985.9" y1="1754.35" y2="1754.35" stroke="#000" stroke-width="2.5" stroke-dasharray="2.7 7.66" stroke-dashoffset="1.05"/>
<clipPath id="k11"><rect x="135.6" y="1391.85" width="850.3" height="416"/></clipPath>
<polyline clip-path="url(#k11)" points="135.6,1471.17 154.08,1476.39 172.55,1482.69 191.03,1490.21 209.51,1499.1 227.98,1509.48 246.46,1521.39 264.94,1534.84 283.41,1549.75 301.89,1565.94 320.37,1583.13 338.84,1600.98 357.32,1619.09 375.79,1637.04 394.27,1654.46 412.75,1670.98 431.22,1686.33 449.7,1700.33 468.18,1712.87 486.65,1723.89 505.13,1733.42 523.61,1741.51 542.08,1748.24 560.56,1753.71 579.04,1758 597.51,1761.22 615.99,1763.47 634.47,1764.84 652.94,1765.47 671.42,1765.51 689.9,1765.13 708.37,1764.52 726.85,1763.84 745.32,1763.16 763.8,1762.52 782.28,1761.93 800.75,1761.37 819.23,1760.86 837.71,1760.38 856.18,1759.94 874.66,1759.53 893.14,1759.16 911.61,1758.8 930.09,1758.48 948.57,1758.18 967.04,1757.9 985.52,1757.64" fill="none" stroke="#000" stroke-width="2.5" stroke-linejoin="round" stroke-dasharray="26.16 15.18"/>
<line x1="135.6" x2="985.9" y1="1449.47" y2="1449.47" stroke="#000" stroke-width="2.5"/>
<text x="155.3" y="924.5" font-size="42" font-weight="bold">d</text>
<text transform="translate(61.5 1117.83) rotate(-90)" text-anchor="middle" font-size="29.3">Infection probability</text>
<text transform="translate(46.8 1600.15) rotate(-90)" text-anchor="middle" font-size="29.3">Mean</text>
<text transform="translate(82.3 1599.35) rotate(-90)" text-anchor="middle" font-size="29.3">susceptibility factor</text>
<path d="M767.7 1221.4v-3M767.7 1100.6v3" fill="none" stroke="#000" stroke-width="1.25"/>
<rect x="646.2" y="1100.6" width="243" height="120.8" fill="none" stroke="#000" stroke-width="1.25"/>
<text x="646.7" y="1254.1" text-anchor="middle" font-size="25">0</text>
<text x="768.2" y="1254.1" text-anchor="middle" font-size="25">1</text>
<text x="889.7" y="1254.1" text-anchor="middle" font-size="25">2</text>
<text x="766.8" y="1290.4" text-anchor="middle" font-size="25">Susceptibility</text>
<rect x="762.55" y="1100.1" width="10.3" height="121.8" fill="#0000ff"/>
<clipPath id="cd"><rect x="643.2" y="1100" width="249" height="124.8"/></clipPath>
<polyline clip-path="url(#cd)" points="646.69,561.09 646.85,675.65 647.01,750.83 647.17,804.59 647.33,845.27 647.49,877.31 647.64,903.32 647.8,924.93 647.96,943.22 648.12,958.94 648.28,972.61 648.44,984.64 648.6,995.32 648.76,1004.88 648.92,1013.49 649.08,1021.3 649.24,1028.41 649.4,1034.93 649.56,1040.93 649.72,1046.47 649.88,1051.6 650.04,1056.38 650.2,1060.83 650.36,1065 650.52,1068.91 650.68,1072.58 650.84,1076.04 651,1079.31 651.16,1082.41 651.32,1085.34 651.48,1088.12 651.64,1090.76 651.8,1093.28 651.96,1095.68 652.12,1097.97 652.28,1100.16 652.44,1102.26 652.6,1104.27 652.76,1106.2 652.92,1108.05 653.08,1109.83 653.24,1111.54 653.4,1113.18 653.56,1114.77 653.72,1116.3 653.88,1117.78 654.04,1119.21 654.2,1120.58 654.36,1121.92 654.52,1123.21 654.68,1124.46 654.84,1125.67 655,1126.85 655.16,1127.99 655.32,1129.09 655.48,1130.17 655.64,1131.21 655.8,1132.22 655.96,1133.21 656.12,1134.17 656.28,1135.11 656.44,1136.02 656.6,1136.9 656.76,1137.77 656.91,1138.61 657.07,1139.43 657.23,1140.24 657.39,1141.02 657.55,1141.79 657.71,1142.53 657.87,1143.26 658.03,1143.98 658.19,1144.67 658.35,1145.36 658.51,1146.02 658.67,1146.68 658.83,1147.32 658.99,1147.94 659.15,1148.55 659.31,1149.16 659.47,1149.74 659.63,1150.32 659.79,1150.89 659.95,1151.44 660.11,1151.98 660.27,1152.52 660.43,1153.04 660.59,1153.56 660.75,1154.06 660.91,1154.56 661.07,1155.04 661.23,1155.52 661.39,1155.99 661.55,1156.45 661.71,1156.9 661.87,1157.35 662.03,1157.79 662.19,1158.22 662.35,1158.64 662.51,1159.06 662.67,1159.47 662.83,1159.87 662.99,1160.27 663.15,1160.66 663.31,1161.04 663.47,1161.42 663.63,1161.79 663.79,1162.16 663.95,1162.52 664.11,1162.88 664.27,1163.23 664.43,1163.58 664.59,1163.92 664.75,1164.25 664.91,1164.58 665.07,1164.91 665.23,1165.23 665.39,1165.55 665.55,1165.86 665.71,1166.17 665.87,1166.48 666.02,1166.78 666.18,1167.07 666.34,1167.37 666.5,1167.65 666.66,1167.94 666.82,1168.22 666.98,1168.5 667.14,1168.77 667.3,1169.04 667.46,1169.31 667.62,1169.57 667.78,1169.84 667.94,1170.09 668.1,1170.35 668.26,1170.6 668.42,1170.85 668.58,1171.09 668.74,1171.33 668.9,1171.57 669.06,1171.81 669.22,1172.04 669.38,1172.28 669.54,1172.5 669.7,1172.73 669.86,1172.95 670.02,1173.18 670.18,1173.39 670.34,1173.61 670.5,1173.82 670.5,1173.82 671.6,1175.23 672.7,1176.54 673.8,1177.77 674.9,1178.91 675.99,1179.99 677.09,1181 678.19,1181.95 679.29,1182.85 680.39,1183.7 681.49,1184.51 682.59,1185.27 683.69,1186 684.79,1186.69 685.89,1187.36 686.98,1187.99 688.08,1188.59 689.18,1189.17 690.28,1189.72 691.38,1190.26 692.48,1190.77 693.58,1191.26 694.68,1191.73 695.78,1192.19 696.88,1192.62 697.97,1193.05 699.07,1193.45 700.17,1193.85 701.27,1194.23 702.37,1194.6 703.47,1194.96 704.57,1195.3 705.67,1195.64 706.77,1195.96 707.87,1196.28 708.96,1196.58 710.06,1196.88 711.16,1197.17 712.26,1197.45 713.36,1197.73 714.46,1197.99 715.56,1198.25 716.66,1198.5 717.76,1198.75 718.86,1198.99 719.95,1199.22 721.05,1199.45 722.15,1199.67 723.25,1199.89 724.35,1200.1 725.45,1200.31 726.55,1200.51 727.65,1200.71 728.75,1200.91 729.85,1201.09 730.94,1201.28 732.04,1201.46 733.14,1201.64 734.24,1201.81 735.34,1201.98 736.44,1202.15 737.54,1202.31 738.64,1202.48 739.74,1202.63 740.84,1202.79 741.93,1202.94 743.03,1203.09 744.13,1203.23 745.23,1203.38 746.33,1203.52 747.43,1203.65 748.53,1203.79 749.63,1203.92 750.73,1204.05 751.83,1204.18 752.92,1204.31 754.02,1204.43 755.12,1204.56 756.22,1204.68 757.32,1204.79 758.42,1204.91 759.52,1205.02 760.62,1205.14 761.72,1205.25 762.82,1205.36 763.91,1205.46 765.01,1205.57 766.11,1205.67 767.21,1205.78 768.31,1205.88 769.41,1205.98 770.51,1206.07 771.61,1206.17 772.71,1206.27 773.81,1206.36 774.9,1206.45 776,1206.54 777.1,1206.63 778.2,1206.72 779.3,1206.81 780.4,1206.9 781.5,1206.98 782.6,1207.07 783.7,1207.15 784.8,1207.23 785.89,1207.31 786.99,1207.39 788.09,1207.47 789.19,1207.55 790.29,1207.63 791.39,1207.7 792.49,1207.78 793.59,1207.85 794.69,1207.92 795.79,1208 796.88,1208.07 797.98,1208.14 799.08,1208.21 800.18,1208.28 801.28,1208.34 802.38,1208.41 803.48,1208.48 804.58,1208.54 805.68,1208.61 806.78,1208.67 807.87,1208.74 808.97,1208.8 810.07,1208.86 811.17,1208.92 812.27,1208.98 813.37,1209.04 814.47,1209.1 815.57,1209.16 816.67,1209.22 817.77,1209.28 818.86,1209.33 819.96,1209.39 821.06,1209.45 822.16,1209.5 823.26,1209.56 824.36,1209.61 825.46,1209.66 826.56,1209.72 827.66,1209.77 828.76,1209.82 829.85,1209.87 830.95,1209.92 832.05,1209.97 833.15,1210.02 834.25,1210.07 835.35,1210.12 836.45,1210.17 837.55,1210.22 838.65,1210.27 839.75,1210.31 840.84,1210.36 841.94,1210.41 843.04,1210.45 844.14,1210.5 845.24,1210.54 846.34,1210.59 847.44,1210.63 848.54,1210.68 849.64,1210.72 850.74,1210.76 851.83,1210.8 852.93,1210.85 854.03,1210.89 855.13,1210.93 856.23,1210.97 857.33,1211.01 858.43,1211.05 859.53,1211.09 860.63,1211.13 861.73,1211.17 862.82,1211.21 863.92,1211.25 865.02,1211.29 866.12,1211.33 867.22,1211.37 868.32,1211.4 869.42,1211.44 870.52,1211.48 871.62,1211.51 872.72,1211.55 873.81,1211.59 874.91,1211.62 876.01,1211.66 877.11,1211.69 878.21,1211.73 879.31,1211.76 880.41,1211.8 881.51,1211.83 882.61,1211.87 883.71,1211.9 884.8,1211.93 885.9,1211.97 887,1212 888.1,1212.03 889.2,1212.06" fill="none" stroke="#1b9b00" stroke-width="3.6" stroke-linejoin="round"/>
<path d="M1073.03 1358.85v-5.000175M1073.03 878.4v5.000175M1085.41 1358.85v-5.000175M1085.41 878.4v5.000175M1096.12 1358.85v-5.000175M1096.12 878.4v5.000175M1105.58 1358.85v-5.000175M1105.58 878.4v5.000175M1114.03 1358.85v-9.40035M1114.03 878.4v9.40035M1169.67 1358.85v-5.000175M1169.67 878.4v5.000175M1202.21 1358.85v-5.000175M1202.21 878.4v5.000175M1225.3 1358.85v-5.000175M1225.3 878.4v5.000175M1243.21 1358.85v-5.000175M1243.21 878.4v5.000175M1257.84 1358.85v-5.000175M1257.84 878.4v5.000175M1270.21 1358.85v-5.000175M1270.21 878.4v5.000175M1280.93 1358.85v-5.000175M1280.93 878.4v5.000175M1290.39 1358.85v-5.000175M1290.39 878.4v5.000175M1298.84 1358.85v-9.40035M1298.84 878.4v9.40035M1354.47 1358.85v-5.000175M1354.47 878.4v5.000175M1387.02 1358.85v-5.000175M1387.02 878.4v5.000175M1410.11 1358.85v-5.000175M1410.11 878.4v5.000175M1428.02 1358.85v-5.000175M1428.02 878.4v5.000175M1442.65 1358.85v-5.000175M1442.65 878.4v5.000175M1455.02 1358.85v-5.000175M1455.02 878.4v5.000175M1465.74 1358.85v-5.000175M1465.74 878.4v5.000175M1475.19 1358.85v-5.000175M1475.19 878.4v5.000175M1483.65 1358.85v-9.40035M1483.65 878.4v9.40035M1539.28 1358.85v-5.000175M1539.28 878.4v5.000175M1571.83 1358.85v-5.000175M1571.83 878.4v5.000175M1594.92 1358.85v-5.000175M1594.92 878.4v5.000175M1612.83 1358.85v-5.000175M1612.83 878.4v5.000175M1627.46 1358.85v-5.000175M1627.46 878.4v5.000175M1639.83 1358.85v-5.000175M1639.83 878.4v5.000175M1650.55 1358.85v-5.000175M1650.55 878.4v5.000175M1660 1358.85v-5.000175M1660 878.4v5.000175M1668.46 1358.85v-9.40035M1668.46 878.4v9.40035M1724.09 1358.85v-5.000175M1724.09 878.4v5.000175M1756.63 1358.85v-5.000175M1756.63 878.4v5.000175M1779.72 1358.85v-5.000175M1779.72 878.4v5.000175M1797.63 1358.85v-5.000175M1797.63 878.4v5.000175M1812.27 1358.85v-5.000175M1812.27 878.4v5.000175M1824.64 1358.85v-5.000175M1824.64 878.4v5.000175M1835.36 1358.85v-5.000175M1835.36 878.4v5.000175M1844.81 1358.85v-5.000175M1844.81 878.4v5.000175M1853.27 1358.85v-9.40035M1853.27 878.4v9.40035M1058.4 1262.76h9.4M1908.9 1262.76h-9.4M1058.4 1166.67h9.4M1908.9 1166.67h-9.4M1058.4 1070.58h9.4M1908.9 1070.58h-9.4M1058.4 974.49h9.4M1908.9 974.49h-9.4" fill="none" stroke="#000" stroke-width="1.3"/>
<rect x="1058.4" y="878.4" width="850.5" height="480.45" fill="none" stroke="#000" stroke-width="1.3"/>
<clipPath id="k12"><rect x="1058.4" y="876.4" width="850.5" height="484.45"/></clipPath>
<polyline clip-path="url(#k12)" points="1058.4,1356.47 1076.88,1355.86 1095.36,1355.1 1113.84,1354.15 1132.32,1352.96 1150.8,1351.47 1169.29,1349.63 1187.77,1347.35 1206.25,1344.54 1224.73,1341.09 1243.21,1336.87 1261.69,1331.77 1280.17,1325.64 1298.65,1318.35 1317.13,1309.78 1335.61,1299.83 1354.09,1288.45 1372.57,1275.63 1391.06,1261.45 1409.54,1246.03 1428.02,1229.55 1446.5,1212.27 1464.98,1194.43 1483.46,1176.33 1501.94,1158.22 1520.42,1140.35 1538.9,1122.91 1557.38,1106.07 1575.86,1089.94 1594.34,1074.61 1612.83,1060.13 1631.31,1046.51 1649.79,1033.76 1668.27,1021.86 1686.75,1010.79 1705.23,1000.51 1723.71,990.99 1742.19,982.17 1760.67,974.01 1779.15,966.48 1797.63,959.53 1816.12,953.11 1834.6,947.2 1853.08,941.75 1871.56,936.72 1890.04,932.09 1908.52,927.83" fill="none" stroke="#0000ff" stroke-width="2.4" stroke-linejoin="round"/>
<clipPath id="k13"><rect x="1058.4" y="876.4" width="850.5" height="484.45"/></clipPath>
<polyline clip-path="url(#k13)" points="1058.4,1355.35 1076.88,1354.46 1095.36,1353.37 1113.84,1352 1132.32,1350.32 1150.8,1348.25 1169.29,1345.72 1187.77,1342.65 1206.25,1338.94 1224.73,1334.51 1243.21,1329.27 1261.69,1323.14 1280.17,1316.07 1298.65,1308.04 1317.13,1299.03 1335.61,1289.11 1354.09,1278.33 1372.57,1266.82 1391.06,1254.71 1409.54,1242.13 1428.02,1229.25 1446.5,1216.21 1464.98,1203.12 1483.46,1190.12 1501.94,1177.29 1520.42,1164.71 1538.9,1152.44 1557.38,1140.52 1575.86,1128.99 1594.34,1117.86 1612.83,1107.14 1631.31,1096.84 1649.79,1086.96 1668.27,1077.49 1686.75,1068.42 1705.23,1059.74 1723.71,1051.44 1742.19,1043.51 1760.67,1035.94 1779.15,1028.7 1797.63,1021.79 1816.12,1015.2 1834.6,1008.9 1853.08,1002.89 1871.56,997.16 1890.04,991.69 1908.52,986.47" fill="none" stroke="#1b9b00" stroke-width="2.4" stroke-linejoin="round"/>
<path d="M1073.03 1805.85v-5.000175M1073.03 1393.85v5.000175M1085.41 1805.85v-5.000175M1085.41 1393.85v5.000175M1096.12 1805.85v-5.000175M1096.12 1393.85v5.000175M1105.58 1805.85v-5.000175M1105.58 1393.85v5.000175M1114.03 1805.85v-9.40035M1114.03 1393.85v9.40035M1169.67 1805.85v-5.000175M1169.67 1393.85v5.000175M1202.21 1805.85v-5.000175M1202.21 1393.85v5.000175M1225.3 1805.85v-5.000175M1225.3 1393.85v5.000175M1243.21 1805.85v-5.000175M1243.21 1393.85v5.000175M1257.84 1805.85v-5.000175M1257.84 1393.85v5.000175M1270.21 1805.85v-5.000175M1270.21 1393.85v5.000175M1280.93 1805.85v-5.000175M1280.93 1393.85v5.000175M1290.39 1805.85v-5.000175M1290.39 1393.85v5.000175M1298.84 1805.85v-9.40035M1298.84 1393.85v9.40035M1354.47 1805.85v-5.000175M1354.47 1393.85v5.000175M1387.02 1805.85v-5.000175M1387.02 1393.85v5.000175M1410.11 1805.85v-5.000175M1410.11 1393.85v5.000175M1428.02 1805.85v-5.000175M1428.02 1393.85v5.000175M1442.65 1805.85v-5.000175M1442.65 1393.85v5.000175M1455.02 1805.85v-5.000175M1455.02 1393.85v5.000175M1465.74 1805.85v-5.000175M1465.74 1393.85v5.000175M1475.19 1805.85v-5.000175M1475.19 1393.85v5.000175M1483.65 1805.85v-9.40035M1483.65 1393.85v9.40035M1539.28 1805.85v-5.000175M1539.28 1393.85v5.000175M1571.83 1805.85v-5.000175M1571.83 1393.85v5.000175M1594.92 1805.85v-5.000175M1594.92 1393.85v5.000175M1612.83 1805.85v-5.000175M1612.83 1393.85v5.000175M1627.46 1805.85v-5.000175M1627.46 1393.85v5.000175M1639.83 1805.85v-5.000175M1639.83 1393.85v5.000175M1650.55 1805.85v-5.000175M1650.55 1393.85v5.000175M1660 1805.85v-5.000175M1660 1393.85v5.000175M1668.46 1805.85v-9.40035M1668.46 1393.85v9.40035M1724.09 1805.85v-5.000175M1724.09 1393.85v5.000175M1756.63 1805.85v-5.000175M1756.63 1393.85v5.000175M1779.72 1805.85v-5.000175M1779.72 1393.85v5.000175M1797.63 1805.85v-5.000175M1797.63 1393.85v5.000175M1812.27 1805.85v-5.000175M1812.27 1393.85v5.000175M1824.64 1805.85v-5.000175M1824.64 1393.85v5.000175M1835.36 1805.85v-5.000175M1835.36 1393.85v5.000175M1844.81 1805.85v-5.000175M1844.81 1393.85v5.000175M1853.27 1805.85v-9.40035M1853.27 1393.85v9.40035M1058.4 1599.85h9.4M1908.9 1599.85h-9.4" fill="none" stroke="#000" stroke-width="1.3"/>
<rect x="1058.4" y="1393.85" width="850.5" height="412" fill="none" stroke="#000" stroke-width="1.3"/>
<text x="1045.65" y="1815.1" text-anchor="end" font-size="30.5">0</text>
<text x="1045.65" y="1609.1" text-anchor="end" font-size="30.5">1</text>
<text x="1045.65" y="1403.1" text-anchor="end" font-size="30.5">2</text>
<text x="1114.33" y="1847.65" text-anchor="middle" font-size="30.5">10<tspan dy="-13.1" font-size="21">4</tspan></text>
<text x="1299.14" y="1847.65" text-anchor="middle" font-size="30.5">10<tspan dy="-13.1" font-size="21">5</tspan></text>
<text x="1483.95" y="1847.65" text-anchor="middle" font-size="30.5">10<tspan dy="-13.1" font-size="21">6</tspan></text>
<text x="1668.76" y="1847.65" text-anchor="middle" font-size="30.5">10<tspan dy="-13.1" font-size="21">7</tspan></text>
<text x="1853.57" y="1847.65" text-anchor="middle" font-size="30.5">10<tspan dy="-13.1" font-size="21">8</tspan></text>
<text x="1483.15" y="1891.65" text-anchor="middle" font-size="29.3">Dose</text>
<line x1="1058.4" x2="1908.9" y1="1599.85" y2="1599.85" stroke="#000" stroke-width="2.5" stroke-dasharray="2.7 7.66" stroke-dashoffset="1.05"/>
<clipPath id="k14"><rect x="1058.4" y="1391.85" width="850.5" height="416"/></clipPath>
<polyline clip-path="url(#k14)" points="1058.4,1502.62 1076.88,1503.55 1095.36,1504.7 1113.84,1506.12 1132.32,1507.85 1150.8,1509.98 1169.29,1512.54 1187.77,1515.63 1206.25,1519.29 1224.73,1523.59 1243.21,1528.55 1261.69,1534.2 1280.17,1540.49 1298.65,1547.38 1317.13,1554.74 1335.61,1562.42 1354.09,1570.25 1372.57,1578.04 1391.06,1585.59 1409.54,1592.74 1428.02,1599.37 1446.5,1605.38 1464.98,1610.74 1483.46,1615.41 1501.94,1619.43 1520.42,1622.82 1538.9,1625.63 1557.38,1627.93 1575.86,1629.76 1594.34,1631.2 1612.83,1632.27 1631.31,1633.05 1649.79,1633.56 1668.27,1633.85 1686.75,1633.96 1705.23,1633.9 1723.71,1633.7 1742.19,1633.4 1760.67,1633 1779.15,1632.52 1797.63,1631.97 1816.12,1631.37 1834.6,1630.73 1853.08,1630.05 1871.56,1629.34 1890.04,1628.62 1908.52,1627.88" fill="none" stroke="#000" stroke-width="2.5" stroke-linejoin="round" stroke-dasharray="26.16 15.18"/>
<line x1="1058.4" x2="1908.9" y1="1498.91" y2="1498.91" stroke="#000" stroke-width="2.5"/>
<text x="1077.6" y="924.5" font-size="42" font-weight="bold">e</text>
<path d="M1739.6 1263v-3M1739.6 1142.2v3" fill="none" stroke="#000" stroke-width="1.25"/>
<rect x="1618.1" y="1142.2" width="243" height="120.8" fill="none" stroke="#000" stroke-width="1.25"/>
<text x="1618.6" y="1295.7" text-anchor="middle" font-size="25">0</text>
<text x="1740.1" y="1295.7" text-anchor="middle" font-size="25">1</text>
<text x="1861.6" y="1295.7" text-anchor="middle" font-size="25">2</text>
<text x="1738.7" y="1332" text-anchor="middle" font-size="25">Susceptibility</text>
<clipPath id="ce1"><rect x="1615.1" y="1141.6" width="249" height="124.8"/></clipPath>
<polyline clip-path="url(#ce1)" points="1618.59,106.32 1618.75,299.21 1618.91,426.79 1619.07,518.59 1619.23,588.43 1619.39,643.69 1619.54,688.72 1619.7,726.27 1619.86,758.15 1620.02,785.63 1620.18,809.61 1620.34,830.75 1620.5,849.57 1620.66,866.44 1620.82,881.68 1620.98,895.52 1621.14,908.15 1621.3,919.75 1621.46,930.44 1621.62,940.33 1621.78,949.52 1621.94,958.07 1622.1,966.06 1622.26,973.55 1622.42,980.58 1622.58,987.2 1622.74,993.44 1622.9,999.34 1623.06,1004.93 1623.22,1010.24 1623.38,1015.28 1623.54,1020.07 1623.7,1024.65 1623.86,1029.01 1624.02,1033.18 1624.18,1037.18 1624.34,1041 1624.5,1044.67 1624.66,1048.19 1624.82,1051.57 1624.98,1054.83 1625.14,1057.96 1625.3,1060.99 1625.46,1063.9 1625.62,1066.71 1625.78,1069.43 1625.94,1072.05 1626.1,1074.59 1626.26,1077.05 1626.42,1079.43 1626.58,1081.74 1626.74,1083.98 1626.9,1086.15 1627.06,1088.26 1627.22,1090.31 1627.38,1092.3 1627.54,1094.24 1627.7,1096.12 1627.86,1097.95 1628.02,1099.74 1628.18,1101.48 1628.34,1103.17 1628.5,1104.82 1628.66,1106.44 1628.81,1108.01 1628.97,1109.54 1629.13,1111.04 1629.29,1112.5 1629.45,1113.93 1629.61,1115.33 1629.77,1116.7 1629.93,1118.03 1630.09,1119.34 1630.25,1120.62 1630.41,1121.87 1630.57,1123.1 1630.73,1124.3 1630.89,1125.48 1631.05,1126.63 1631.21,1127.76 1631.37,1128.87 1631.53,1129.96 1631.69,1131.02 1631.85,1132.07 1632.01,1133.09 1632.17,1134.1 1632.33,1135.09 1632.49,1136.06 1632.65,1137.02 1632.81,1137.95 1632.97,1138.87 1633.13,1139.78 1633.29,1140.67 1633.45,1141.54 1633.61,1142.4 1633.77,1143.25 1633.93,1144.08 1634.09,1144.9 1634.25,1145.7 1634.41,1146.49 1634.57,1147.27 1634.73,1148.04 1634.89,1148.8 1635.05,1149.54 1635.21,1150.27 1635.37,1151 1635.53,1151.71 1635.69,1152.41 1635.85,1153.1 1636.01,1153.78 1636.17,1154.45 1636.33,1155.11 1636.49,1155.76 1636.65,1156.4 1636.81,1157.04 1636.97,1157.66 1637.13,1158.28 1637.29,1158.89 1637.45,1159.49 1637.61,1160.08 1637.77,1160.67 1637.92,1161.24 1638.08,1161.81 1638.24,1162.38 1638.4,1162.93 1638.56,1163.48 1638.72,1164.02 1638.88,1164.55 1639.04,1165.08 1639.2,1165.6 1639.36,1166.12 1639.52,1166.63 1639.68,1167.13 1639.84,1167.63 1640,1168.12 1640.16,1168.6 1640.32,1169.08 1640.48,1169.56 1640.64,1170.03 1640.8,1170.49 1640.96,1170.95 1641.12,1171.4 1641.28,1171.85 1641.44,1172.29 1641.6,1172.73 1641.76,1173.16 1641.92,1173.59 1642.08,1174.01 1642.24,1174.43 1642.4,1174.85 1642.4,1174.85 1643.5,1177.59 1644.6,1180.14 1645.7,1182.53 1646.8,1184.77 1647.89,1186.88 1648.99,1188.87 1650.09,1190.74 1651.19,1192.52 1652.29,1194.2 1653.39,1195.8 1654.49,1197.32 1655.59,1198.77 1656.69,1200.15 1657.79,1201.47 1658.88,1202.73 1659.98,1203.94 1661.08,1205.1 1662.18,1206.21 1663.28,1207.28 1664.38,1208.31 1665.48,1209.3 1666.58,1210.26 1667.68,1211.18 1668.78,1212.07 1669.87,1212.92 1670.97,1213.75 1672.07,1214.56 1673.17,1215.33 1674.27,1216.08 1675.37,1216.81 1676.47,1217.52 1677.57,1218.21 1678.67,1218.87 1679.77,1219.52 1680.86,1220.15 1681.96,1220.76 1683.06,1221.35 1684.16,1221.93 1685.26,1222.49 1686.36,1223.04 1687.46,1223.58 1688.56,1224.1 1689.66,1224.61 1690.76,1225.11 1691.85,1225.59 1692.95,1226.06 1694.05,1226.52 1695.15,1226.98 1696.25,1227.42 1697.35,1227.85 1698.45,1228.27 1699.55,1228.68 1700.65,1229.09 1701.75,1229.48 1702.84,1229.87 1703.94,1230.25 1705.04,1230.62 1706.14,1230.98 1707.24,1231.34 1708.34,1231.69 1709.44,1232.03 1710.54,1232.37 1711.64,1232.7 1712.74,1233.02 1713.83,1233.34 1714.93,1233.65 1716.03,1233.95 1717.13,1234.26 1718.23,1234.55 1719.33,1234.84 1720.43,1235.13 1721.53,1235.41 1722.63,1235.68 1723.73,1235.95 1724.82,1236.22 1725.92,1236.48 1727.02,1236.74 1728.12,1236.99 1729.22,1237.24 1730.32,1237.48 1731.42,1237.72 1732.52,1237.96 1733.62,1238.19 1734.72,1238.42 1735.81,1238.65 1736.91,1238.87 1738.01,1239.09 1739.11,1239.31 1740.21,1239.52 1741.31,1239.73 1742.41,1239.94 1743.51,1240.14 1744.61,1240.35 1745.71,1240.54 1746.8,1240.74 1747.9,1240.93 1749,1241.12 1750.1,1241.31 1751.2,1241.5 1752.3,1241.68 1753.4,1241.86 1754.5,1242.03 1755.6,1242.21 1756.7,1242.38 1757.79,1242.55 1758.89,1242.72 1759.99,1242.89 1761.09,1243.05 1762.19,1243.21 1763.29,1243.37 1764.39,1243.53 1765.49,1243.69 1766.59,1243.84 1767.69,1243.99 1768.78,1244.15 1769.88,1244.29 1770.98,1244.44 1772.08,1244.59 1773.18,1244.73 1774.28,1244.87 1775.38,1245.01 1776.48,1245.15 1777.58,1245.28 1778.68,1245.42 1779.77,1245.55 1780.87,1245.69 1781.97,1245.82 1783.07,1245.94 1784.17,1246.07 1785.27,1246.2 1786.37,1246.32 1787.47,1246.45 1788.57,1246.57 1789.67,1246.69 1790.76,1246.81 1791.86,1246.93 1792.96,1247.04 1794.06,1247.16 1795.16,1247.27 1796.26,1247.39 1797.36,1247.5 1798.46,1247.61 1799.56,1247.72 1800.66,1247.83 1801.75,1247.93 1802.85,1248.04 1803.95,1248.15 1805.05,1248.25 1806.15,1248.35 1807.25,1248.45 1808.35,1248.56 1809.45,1248.66 1810.55,1248.75 1811.65,1248.85 1812.74,1248.95 1813.84,1249.05 1814.94,1249.14 1816.04,1249.23 1817.14,1249.33 1818.24,1249.42 1819.34,1249.51 1820.44,1249.6 1821.54,1249.69 1822.64,1249.78 1823.73,1249.87 1824.83,1249.96 1825.93,1250.04 1827.03,1250.13 1828.13,1250.21 1829.23,1250.3 1830.33,1250.38 1831.43,1250.46 1832.53,1250.54 1833.63,1250.63 1834.72,1250.71 1835.82,1250.79 1836.92,1250.86 1838.02,1250.94 1839.12,1251.02 1840.22,1251.1 1841.32,1251.17 1842.42,1251.25 1843.52,1251.32 1844.62,1251.4 1845.71,1251.47 1846.81,1251.54 1847.91,1251.62 1849.01,1251.69 1850.11,1251.76 1851.21,1251.83 1852.31,1251.9 1853.41,1251.97 1854.51,1252.04 1855.61,1252.1 1856.7,1252.17 1857.8,1252.24 1858.9,1252.31 1860,1252.37 1861.1,1252.44" fill="none" stroke="#0000ff" stroke-width="5.6" stroke-linejoin="round"/>
<clipPath id="ce2"><rect x="1615.1" y="1141.6" width="249" height="124.8"/></clipPath>
<polyline clip-path="url(#ce2)" points="1618.59,-185.93 1618.75,107.41 1618.91,293.87 1619.07,423.89 1619.23,520.24 1619.39,594.78 1619.54,654.35 1619.7,703.15 1619.86,743.95 1620.02,778.61 1620.18,808.46 1620.34,834.47 1620.5,857.35 1620.66,877.66 1620.82,895.81 1620.98,912.15 1621.14,926.94 1621.3,940.4 1621.46,952.7 1621.62,964 1621.78,974.42 1621.94,984.05 1622.1,993 1622.26,1001.32 1622.42,1009.09 1622.58,1016.36 1622.74,1023.18 1622.9,1029.59 1623.06,1035.63 1623.22,1041.33 1623.38,1046.72 1623.54,1051.82 1623.7,1056.66 1623.86,1061.27 1624.02,1065.64 1624.18,1069.81 1624.34,1073.79 1624.5,1077.59 1624.66,1081.23 1624.82,1084.7 1624.98,1088.04 1625.14,1091.23 1625.3,1094.3 1625.46,1097.25 1625.62,1100.09 1625.78,1102.82 1625.94,1105.45 1626.1,1107.99 1626.26,1110.43 1626.42,1112.8 1626.58,1115.08 1626.74,1117.29 1626.9,1119.42 1627.06,1121.49 1627.22,1123.49 1627.38,1125.43 1627.54,1127.31 1627.7,1129.13 1627.86,1130.9 1628.02,1132.62 1628.18,1134.29 1628.34,1135.91 1628.5,1137.49 1628.66,1139.03 1628.81,1140.52 1628.97,1141.98 1629.13,1143.4 1629.29,1144.78 1629.45,1146.12 1629.61,1147.43 1629.77,1148.71 1629.93,1149.96 1630.09,1151.18 1630.25,1152.37 1630.41,1153.54 1630.57,1154.67 1630.73,1155.78 1630.89,1156.87 1631.05,1157.93 1631.21,1158.97 1631.37,1159.98 1631.53,1160.98 1631.69,1161.95 1631.85,1162.91 1632.01,1163.84 1632.17,1164.75 1632.33,1165.65 1632.49,1166.53 1632.65,1167.39 1632.81,1168.23 1632.97,1169.06 1633.13,1169.87 1633.29,1170.67 1633.45,1171.45 1633.61,1172.22 1633.77,1172.97 1633.93,1173.71 1634.09,1174.44 1634.25,1175.15 1634.41,1175.85 1634.57,1176.54 1634.73,1177.22 1634.89,1177.88 1635.05,1178.53 1635.21,1179.18 1635.37,1179.81 1635.53,1180.43 1635.69,1181.04 1635.85,1181.65 1636.01,1182.24 1636.17,1182.82 1636.33,1183.4 1636.49,1183.96 1636.65,1184.52 1636.81,1185.06 1636.97,1185.6 1637.13,1186.13 1637.29,1186.66 1637.45,1187.17 1637.61,1187.68 1637.77,1188.18 1637.92,1188.68 1638.08,1189.16 1638.24,1189.64 1638.4,1190.11 1638.56,1190.58 1638.72,1191.04 1638.88,1191.49 1639.04,1191.94 1639.2,1192.38 1639.36,1192.82 1639.52,1193.24 1639.68,1193.67 1639.84,1194.09 1640,1194.5 1640.16,1194.91 1640.32,1195.31 1640.48,1195.7 1640.64,1196.1 1640.8,1196.48 1640.96,1196.87 1641.12,1197.24 1641.28,1197.61 1641.44,1197.98 1641.6,1198.35 1641.76,1198.71 1641.92,1199.06 1642.08,1199.41 1642.24,1199.76 1642.4,1200.1 1642.4,1200.1 1643.5,1202.35 1644.6,1204.43 1645.7,1206.36 1646.8,1208.16 1647.89,1209.84 1648.99,1211.42 1650.09,1212.89 1651.19,1214.28 1652.29,1215.59 1653.39,1216.82 1654.49,1217.99 1655.59,1219.1 1656.69,1220.15 1657.79,1221.15 1658.88,1222.1 1659.98,1223 1661.08,1223.87 1662.18,1224.69 1663.28,1225.48 1664.38,1226.24 1665.48,1226.96 1666.58,1227.66 1667.68,1228.32 1668.78,1228.97 1669.87,1229.58 1670.97,1230.18 1672.07,1230.75 1673.17,1231.3 1674.27,1231.83 1675.37,1232.35 1676.47,1232.85 1677.57,1233.33 1678.67,1233.79 1679.77,1234.24 1680.86,1234.68 1681.96,1235.1 1683.06,1235.51 1684.16,1235.91 1685.26,1236.3 1686.36,1236.67 1687.46,1237.04 1688.56,1237.39 1689.66,1237.73 1690.76,1238.07 1691.85,1238.4 1692.95,1238.71 1694.05,1239.02 1695.15,1239.33 1696.25,1239.62 1697.35,1239.91 1698.45,1240.19 1699.55,1240.46 1700.65,1240.73 1701.75,1240.99 1702.84,1241.24 1703.94,1241.49 1705.04,1241.73 1706.14,1241.97 1707.24,1242.2 1708.34,1242.43 1709.44,1242.65 1710.54,1242.87 1711.64,1243.08 1712.74,1243.29 1713.83,1243.5 1714.93,1243.7 1716.03,1243.89 1717.13,1244.08 1718.23,1244.27 1719.33,1244.46 1720.43,1244.64 1721.53,1244.82 1722.63,1244.99 1723.73,1245.16 1724.82,1245.33 1725.92,1245.5 1727.02,1245.66 1728.12,1245.82 1729.22,1245.97 1730.32,1246.13 1731.42,1246.28 1732.52,1246.43 1733.62,1246.57 1734.72,1246.72 1735.81,1246.86 1736.91,1247 1738.01,1247.13 1739.11,1247.27 1740.21,1247.4 1741.31,1247.53 1742.41,1247.66 1743.51,1247.78 1744.61,1247.91 1745.71,1248.03 1746.8,1248.15 1747.9,1248.27 1749,1248.38 1750.1,1248.5 1751.2,1248.61 1752.3,1248.72 1753.4,1248.83 1754.5,1248.94 1755.6,1249.05 1756.7,1249.15 1757.79,1249.26 1758.89,1249.36 1759.99,1249.46 1761.09,1249.56 1762.19,1249.66 1763.29,1249.76 1764.39,1249.85 1765.49,1249.95 1766.59,1250.04 1767.69,1250.13 1768.78,1250.22 1769.88,1250.31 1770.98,1250.4 1772.08,1250.49 1773.18,1250.57 1774.28,1250.66 1775.38,1250.74 1776.48,1250.82 1777.58,1250.91 1778.68,1250.99 1779.77,1251.07 1780.87,1251.14 1781.97,1251.22 1783.07,1251.3 1784.17,1251.38 1785.27,1251.45 1786.37,1251.53 1787.47,1251.6 1788.57,1251.67 1789.67,1251.74 1790.76,1251.81 1791.86,1251.88 1792.96,1251.95 1794.06,1252.02 1795.16,1252.09 1796.26,1252.16 1797.36,1252.22 1798.46,1252.29 1799.56,1252.35 1800.66,1252.42 1801.75,1252.48 1802.85,1252.54 1803.95,1252.61 1805.05,1252.67 1806.15,1252.73 1807.25,1252.79 1808.35,1252.85 1809.45,1252.91 1810.55,1252.97 1811.65,1253.02 1812.74,1253.08 1813.84,1253.14 1814.94,1253.19 1816.04,1253.25 1817.14,1253.3 1818.24,1253.36 1819.34,1253.41 1820.44,1253.46 1821.54,1253.52 1822.64,1253.57 1823.73,1253.62 1824.83,1253.67 1825.93,1253.72 1827.03,1253.77 1828.13,1253.82 1829.23,1253.87 1830.33,1253.92 1831.43,1253.97 1832.53,1254.02 1833.63,1254.07 1834.72,1254.11 1835.82,1254.16 1836.92,1254.21 1838.02,1254.25 1839.12,1254.3 1840.22,1254.34 1841.32,1254.39 1842.42,1254.43 1843.52,1254.48 1844.62,1254.52 1845.71,1254.56 1846.81,1254.6 1847.91,1254.65 1849.01,1254.69 1850.11,1254.73 1851.21,1254.77 1852.31,1254.81 1853.41,1254.85 1854.51,1254.89 1855.61,1254.93 1856.7,1254.97 1857.8,1255.01 1858.9,1255.05 1860,1255.09 1861.1,1255.13" fill="none" stroke="#1b9b00" stroke-width="3.6" stroke-linejoin="round"/>
</svg>
</body></html>
